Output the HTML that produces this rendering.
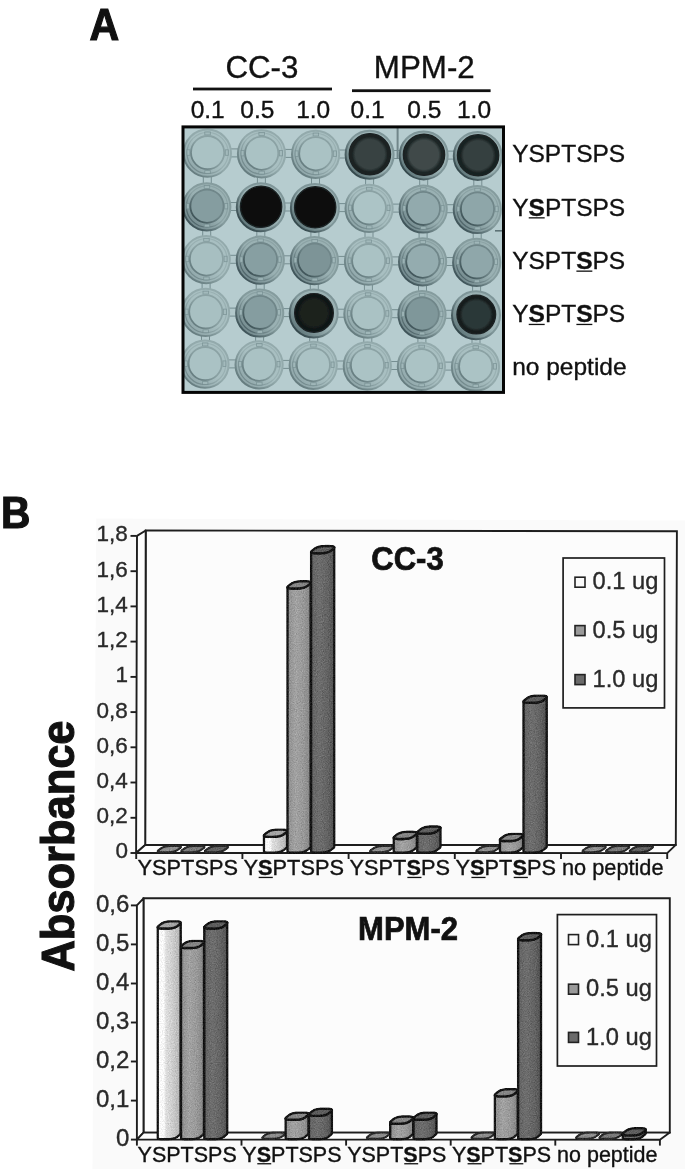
<!DOCTYPE html>
<html lang="en"><head><meta charset="utf-8"><title>Figure: CC-3 and MPM-2 peptide binding</title>
<style>
html,body{margin:0;padding:0;background:#fff;}
body{width:685px;height:1169px;overflow:hidden;}
svg{display:block;}
text{font-family:"Liberation Sans", Arial, Helvetica, sans-serif;fill:#111;stroke:#111;stroke-width:0.35px;}
.b{font-weight:bold;}
.u{text-decoration:underline;font-weight:bold;}
</style></head><body>
<svg width="685" height="1169" viewBox="0 0 685 1169" role="img" aria-label="Figure panels A and B">
<defs>
<filter id="soft" x="-5%" y="-5%" width="110%" height="110%"><feGaussianBlur stdDeviation="0.6"/></filter>
<clipPath id="plateclip"><rect x="183" y="127" width="321" height="266"/></clipPath>
<linearGradient id="g1" x1="0" y1="0" x2="1" y2="0"><stop offset="0" stop-color="#f9f9f9"/><stop offset="0.27" stop-color="#f9f9f9"/><stop offset="0.36" stop-color="#dddddd"/><stop offset="0.6" stop-color="#d0d0d0"/><stop offset="0.8" stop-color="#c1c1c1"/><stop offset="1" stop-color="#b0b0b0"/></linearGradient>
<linearGradient id="g2" x1="0" y1="0" x2="1" y2="0"><stop offset="0" stop-color="#8e8e8e"/><stop offset="0.35" stop-color="#a2a2a2"/><stop offset="0.7" stop-color="#989898"/><stop offset="1" stop-color="#848484"/></linearGradient>
<linearGradient id="g3" x1="0" y1="0" x2="1" y2="0"><stop offset="0" stop-color="#636363"/><stop offset="0.35" stop-color="#6e6e6e"/><stop offset="0.7" stop-color="#646464"/><stop offset="1" stop-color="#525252"/></linearGradient>
<radialGradient id="dk03" cx="50%" cy="50%" r="50%"><stop offset="0" stop-color="#384343"/><stop offset="0.7" stop-color="#384343"/><stop offset="0.86" stop-color="#1b2323"/><stop offset="1" stop-color="#1b2323"/></radialGradient>
<radialGradient id="dk04" cx="50%" cy="50%" r="50%"><stop offset="0" stop-color="#3f4a4a"/><stop offset="0.7" stop-color="#3f4a4a"/><stop offset="0.86" stop-color="#1e2626"/><stop offset="1" stop-color="#1e2626"/></radialGradient>
<radialGradient id="dk05" cx="50%" cy="50%" r="50%"><stop offset="0" stop-color="#354040"/><stop offset="0.7" stop-color="#354040"/><stop offset="0.86" stop-color="#192121"/><stop offset="1" stop-color="#192121"/></radialGradient>
<radialGradient id="dk11" cx="50%" cy="50%" r="50%"><stop offset="0" stop-color="#0d1111"/><stop offset="0.7" stop-color="#0d1111"/><stop offset="0.86" stop-color="#090c0c"/><stop offset="1" stop-color="#090c0c"/></radialGradient>
<radialGradient id="dk12" cx="50%" cy="50%" r="50%"><stop offset="0" stop-color="#0c1010"/><stop offset="0.7" stop-color="#0c1010"/><stop offset="0.86" stop-color="#080b0b"/><stop offset="1" stop-color="#080b0b"/></radialGradient>
<radialGradient id="dk32" cx="50%" cy="50%" r="50%"><stop offset="0" stop-color="#1a201f"/><stop offset="0.7" stop-color="#1a201f"/><stop offset="0.86" stop-color="#0e1312"/><stop offset="1" stop-color="#0e1312"/></radialGradient>
<radialGradient id="dk35" cx="50%" cy="50%" r="50%"><stop offset="0" stop-color="#2c3838"/><stop offset="0.7" stop-color="#2c3838"/><stop offset="0.86" stop-color="#161d1d"/><stop offset="1" stop-color="#161d1d"/></radialGradient>
<filter id="grain" x="-2%" y="-2%" width="104%" height="104%" color-interpolation-filters="sRGB"><feTurbulence type="fractalNoise" baseFrequency="0.85" numOctaves="2" seed="7" result="n"/><feColorMatrix in="n" type="matrix" values="0.33 0.33 0.33 0 0 0.33 0.33 0.33 0 0 0.33 0.33 0.33 0 0 0 0 0 0 1" result="g"/><feComposite in="SourceGraphic" in2="g" operator="arithmetic" k1="0" k2="1" k3="0.42" k4="-0.21" result="c"/><feComposite in="c" in2="SourceGraphic" operator="in"/></filter>
<linearGradient id="rbL" x1="0.15" y1="0.85" x2="0.85" y2="0.15"><stop offset="0" stop-color="#8fa6a9"/><stop offset="0.5" stop-color="#a8bfc1"/><stop offset="1" stop-color="#a8bfc1"/></linearGradient>
<linearGradient id="rsL" x1="0.15" y1="0.85" x2="0.85" y2="0.15"><stop offset="0" stop-color="#667d80"/><stop offset="0.5" stop-color="#93aaac"/><stop offset="1" stop-color="#93aaac"/></linearGradient>
<linearGradient id="riL" x1="0.15" y1="0.85" x2="0.85" y2="0.15"><stop offset="0" stop-color="#687f82"/><stop offset="0.5" stop-color="#8ba2a4"/><stop offset="1" stop-color="#8ba2a4"/></linearGradient>
<linearGradient id="rbM" x1="0.15" y1="0.85" x2="0.85" y2="0.15"><stop offset="0" stop-color="#71888c"/><stop offset="0.5" stop-color="#9ab1b3"/><stop offset="1" stop-color="#9ab1b3"/></linearGradient>
<linearGradient id="rsM" x1="0.15" y1="0.85" x2="0.85" y2="0.15"><stop offset="0" stop-color="#40555a"/><stop offset="0.5" stop-color="#859c9e"/><stop offset="1" stop-color="#859c9e"/></linearGradient>
<linearGradient id="riM" x1="0.15" y1="0.85" x2="0.85" y2="0.15"><stop offset="0" stop-color="#42575b"/><stop offset="0.5" stop-color="#6f8689"/><stop offset="1" stop-color="#6f8689"/></linearGradient>
<linearGradient id="rbD" x1="0.15" y1="0.85" x2="0.85" y2="0.15"><stop offset="0" stop-color="#62797c"/><stop offset="0.5" stop-color="#9ab1b3"/><stop offset="1" stop-color="#9ab1b3"/></linearGradient>
<linearGradient id="rsD" x1="0.15" y1="0.85" x2="0.85" y2="0.15"><stop offset="0" stop-color="#364a4e"/><stop offset="0.5" stop-color="#7f9699"/><stop offset="1" stop-color="#7f9699"/></linearGradient>
</defs>
<text transform="translate(89.6,40.3) scale(0.99,1.06)" font-size="41.5" class="b" style="stroke-width:1.1px">A</text>
<text x="261.9" y="77.7" font-size="31.3" text-anchor="middle">CC-3</text>
<text x="424.3" y="77.7" font-size="31.3" text-anchor="middle">MPM-2</text>
<rect x="193" y="87.6" width="139" height="2.8" fill="#111"/>
<rect x="352" y="89.3" width="138.6" height="2.8" fill="#111"/>
<text x="207.7" y="118.3" font-size="24.5" text-anchor="middle">0.1</text>
<text x="257.3" y="118.3" font-size="24.5" text-anchor="middle">0.5</text>
<text x="313.2" y="118.3" font-size="24.5" text-anchor="middle">1.0</text>
<text x="367.6" y="118.3" font-size="24.5" text-anchor="middle">0.1</text>
<text x="424.4" y="118.3" font-size="24.5" text-anchor="middle">0.5</text>
<text x="474.0" y="118.3" font-size="24.5" text-anchor="middle">1.0</text>
<rect x="182.5" y="126.4" width="321.5" height="266.5" fill="#b6cccf"/>
<g clip-path="url(#plateclip)"><g filter="url(#soft)">
<rect x="229.6" y="148.9" width="10.1" height="8" fill="#b2c8cb" stroke="#768e91" stroke-width="1"/>
<rect x="203.3" y="174.6" width="8" height="9.6" fill="#b2c8cb" stroke="#768e91" stroke-width="1"/>
<rect x="283.7" y="149.4" width="10.1" height="8" fill="#b2c8cb" stroke="#768e91" stroke-width="1"/>
<rect x="257.4" y="175.2" width="8" height="9.6" fill="#b2c8cb" stroke="#768e91" stroke-width="1"/>
<rect x="337.8" y="150.0" width="10.1" height="8" fill="#b2c8cb" stroke="#768e91" stroke-width="1"/>
<rect x="311.5" y="175.7" width="8" height="9.6" fill="#b2c8cb" stroke="#768e91" stroke-width="1"/>
<rect x="391.9" y="150.5" width="10.1" height="8" fill="#b2c8cb" stroke="#768e91" stroke-width="1"/>
<rect x="365.6" y="176.2" width="8" height="9.6" fill="#b2c8cb" stroke="#768e91" stroke-width="1"/>
<rect x="446.0" y="151.1" width="10.1" height="8" fill="#b2c8cb" stroke="#768e91" stroke-width="1"/>
<rect x="419.7" y="176.8" width="8" height="9.6" fill="#b2c8cb" stroke="#768e91" stroke-width="1"/>
<rect x="473.8" y="177.3" width="8" height="9.6" fill="#b2c8cb" stroke="#768e91" stroke-width="1"/>
<rect x="229.0" y="202.5" width="10.1" height="8" fill="#b2c8cb" stroke="#768e91" stroke-width="1"/>
<rect x="202.7" y="228.2" width="8" height="8.8" fill="#b2c8cb" stroke="#768e91" stroke-width="1"/>
<rect x="283.1" y="203.0" width="10.1" height="8" fill="#b2c8cb" stroke="#768e91" stroke-width="1"/>
<rect x="256.8" y="228.8" width="8" height="8.8" fill="#b2c8cb" stroke="#768e91" stroke-width="1"/>
<rect x="337.2" y="203.6" width="10.1" height="8" fill="#b2c8cb" stroke="#768e91" stroke-width="1"/>
<rect x="310.9" y="229.3" width="8" height="8.8" fill="#b2c8cb" stroke="#768e91" stroke-width="1"/>
<rect x="391.3" y="204.1" width="10.1" height="8" fill="#b2c8cb" stroke="#768e91" stroke-width="1"/>
<rect x="365.0" y="229.8" width="8" height="8.8" fill="#b2c8cb" stroke="#768e91" stroke-width="1"/>
<rect x="445.4" y="204.7" width="10.1" height="8" fill="#b2c8cb" stroke="#768e91" stroke-width="1"/>
<rect x="419.1" y="230.4" width="8" height="8.8" fill="#b2c8cb" stroke="#768e91" stroke-width="1"/>
<rect x="473.2" y="230.9" width="8" height="8.8" fill="#b2c8cb" stroke="#768e91" stroke-width="1"/>
<rect x="228.4" y="255.3" width="10.1" height="8" fill="#b2c8cb" stroke="#768e91" stroke-width="1"/>
<rect x="202.1" y="281.0" width="8" height="8.8" fill="#b2c8cb" stroke="#768e91" stroke-width="1"/>
<rect x="282.5" y="255.8" width="10.1" height="8" fill="#b2c8cb" stroke="#768e91" stroke-width="1"/>
<rect x="256.2" y="281.6" width="8" height="8.8" fill="#b2c8cb" stroke="#768e91" stroke-width="1"/>
<rect x="336.6" y="256.4" width="10.1" height="8" fill="#b2c8cb" stroke="#768e91" stroke-width="1"/>
<rect x="310.3" y="282.1" width="8" height="8.8" fill="#b2c8cb" stroke="#768e91" stroke-width="1"/>
<rect x="390.7" y="256.9" width="10.1" height="8" fill="#b2c8cb" stroke="#768e91" stroke-width="1"/>
<rect x="364.4" y="282.6" width="8" height="8.8" fill="#b2c8cb" stroke="#768e91" stroke-width="1"/>
<rect x="444.8" y="257.5" width="10.1" height="8" fill="#b2c8cb" stroke="#768e91" stroke-width="1"/>
<rect x="418.5" y="283.2" width="8" height="8.8" fill="#b2c8cb" stroke="#768e91" stroke-width="1"/>
<rect x="472.6" y="283.8" width="8" height="8.8" fill="#b2c8cb" stroke="#768e91" stroke-width="1"/>
<rect x="227.8" y="308.1" width="10.1" height="8" fill="#b2c8cb" stroke="#768e91" stroke-width="1"/>
<rect x="201.5" y="333.8" width="8" height="7.8" fill="#b2c8cb" stroke="#768e91" stroke-width="1"/>
<rect x="281.9" y="308.6" width="10.1" height="8" fill="#b2c8cb" stroke="#768e91" stroke-width="1"/>
<rect x="255.6" y="334.4" width="8" height="7.8" fill="#b2c8cb" stroke="#768e91" stroke-width="1"/>
<rect x="336.0" y="309.2" width="10.1" height="8" fill="#b2c8cb" stroke="#768e91" stroke-width="1"/>
<rect x="309.7" y="334.9" width="8" height="7.8" fill="#b2c8cb" stroke="#768e91" stroke-width="1"/>
<rect x="390.1" y="309.7" width="10.1" height="8" fill="#b2c8cb" stroke="#768e91" stroke-width="1"/>
<rect x="363.8" y="335.4" width="8" height="7.8" fill="#b2c8cb" stroke="#768e91" stroke-width="1"/>
<rect x="444.2" y="310.3" width="10.1" height="8" fill="#b2c8cb" stroke="#768e91" stroke-width="1"/>
<rect x="417.9" y="336.0" width="8" height="7.8" fill="#b2c8cb" stroke="#768e91" stroke-width="1"/>
<rect x="472.0" y="336.6" width="8" height="7.8" fill="#b2c8cb" stroke="#768e91" stroke-width="1"/>
<rect x="227.2" y="359.9" width="10.1" height="8" fill="#b2c8cb" stroke="#768e91" stroke-width="1"/>
<rect x="281.3" y="360.4" width="10.1" height="8" fill="#b2c8cb" stroke="#768e91" stroke-width="1"/>
<rect x="335.4" y="361.0" width="10.1" height="8" fill="#b2c8cb" stroke="#768e91" stroke-width="1"/>
<rect x="389.5" y="361.5" width="10.1" height="8" fill="#b2c8cb" stroke="#768e91" stroke-width="1"/>
<rect x="443.6" y="362.1" width="10.1" height="8" fill="#b2c8cb" stroke="#768e91" stroke-width="1"/>
<circle cx="207.4" cy="153.2" r="23.6" fill="url(#rbL)" stroke="url(#rsL)" stroke-width="2"/>
<circle cx="207.6" cy="152.9" r="20.6" fill="none" stroke="url(#rsL)" stroke-width="1.2" opacity="0.7"/>
<rect x="186.9" y="149.8" width="3.0" height="5.5" fill="#a2b9bb" stroke="#768e91" stroke-width="0.8" opacity="0.8"/>
<rect x="225.3" y="149.8" width="3.0" height="5.5" fill="#a2b9bb" stroke="#768e91" stroke-width="0.8" opacity="0.8"/>
<rect x="204.8" y="170.6" width="5.5" height="3.0" fill="#a2b9bb" stroke="#768e91" stroke-width="0.8" opacity="0.8"/>
<rect x="204.8" y="131.9" width="5.5" height="3.0" fill="#a2b9bb" stroke="#768e91" stroke-width="0.8" opacity="0.8"/>
<circle cx="207.6" cy="152.6" r="16.6" fill="#aac2c4" stroke="url(#riL)" stroke-width="1.8"/>
<circle cx="261.5" cy="153.8" r="23.6" fill="url(#rbL)" stroke="url(#rsL)" stroke-width="2"/>
<circle cx="261.7" cy="153.5" r="20.6" fill="none" stroke="url(#rsL)" stroke-width="1.2" opacity="0.7"/>
<rect x="241.0" y="150.4" width="3.0" height="5.5" fill="#a2b9bb" stroke="#768e91" stroke-width="0.8" opacity="0.8"/>
<rect x="279.4" y="150.4" width="3.0" height="5.5" fill="#a2b9bb" stroke="#768e91" stroke-width="0.8" opacity="0.8"/>
<rect x="258.9" y="171.2" width="5.5" height="3.0" fill="#a2b9bb" stroke="#768e91" stroke-width="0.8" opacity="0.8"/>
<rect x="258.9" y="132.5" width="5.5" height="3.0" fill="#a2b9bb" stroke="#768e91" stroke-width="0.8" opacity="0.8"/>
<circle cx="261.7" cy="153.2" r="16.6" fill="#aac2c4" stroke="url(#riL)" stroke-width="1.8"/>
<circle cx="315.6" cy="154.3" r="23.6" fill="url(#rbL)" stroke="url(#rsL)" stroke-width="2"/>
<circle cx="315.8" cy="154.0" r="20.6" fill="none" stroke="url(#rsL)" stroke-width="1.2" opacity="0.7"/>
<rect x="295.1" y="150.9" width="3.0" height="5.5" fill="#a2b9bb" stroke="#768e91" stroke-width="0.8" opacity="0.8"/>
<rect x="333.5" y="150.9" width="3.0" height="5.5" fill="#a2b9bb" stroke="#768e91" stroke-width="0.8" opacity="0.8"/>
<rect x="313.1" y="171.7" width="5.5" height="3.0" fill="#a2b9bb" stroke="#768e91" stroke-width="0.8" opacity="0.8"/>
<rect x="313.1" y="133.0" width="5.5" height="3.0" fill="#a2b9bb" stroke="#768e91" stroke-width="0.8" opacity="0.8"/>
<circle cx="315.8" cy="153.7" r="16.6" fill="#aac2c4" stroke="url(#riL)" stroke-width="1.8"/>
<circle cx="369.6" cy="154.8" r="24.0" fill="url(#rbD)" stroke="url(#rsD)" stroke-width="2"/>
<circle cx="369.9" cy="154.2" r="20.6" fill="url(#dk03)" stroke="#1a2123" stroke-width="1.4"/>
<circle cx="423.7" cy="155.4" r="24.0" fill="url(#rbD)" stroke="url(#rsD)" stroke-width="2"/>
<circle cx="424.0" cy="154.8" r="20.6" fill="url(#dk04)" stroke="#1a2123" stroke-width="1.4"/>
<circle cx="477.8" cy="155.9" r="24.0" fill="url(#rbD)" stroke="url(#rsD)" stroke-width="2"/>
<circle cx="478.1" cy="155.3" r="20.6" fill="url(#dk05)" stroke="#1a2123" stroke-width="1.4"/>
<circle cx="206.8" cy="206.8" r="23.6" fill="url(#rbM)" stroke="url(#rsM)" stroke-width="2"/>
<circle cx="207.0" cy="206.5" r="20.6" fill="none" stroke="url(#rsM)" stroke-width="1.2" opacity="0.7"/>
<rect x="186.3" y="203.4" width="3.0" height="5.5" fill="#a2b9bb" stroke="#768e91" stroke-width="0.8" opacity="0.8"/>
<rect x="224.7" y="203.4" width="3.0" height="5.5" fill="#a2b9bb" stroke="#768e91" stroke-width="0.8" opacity="0.8"/>
<rect x="204.2" y="224.2" width="5.5" height="3.0" fill="#a2b9bb" stroke="#768e91" stroke-width="0.8" opacity="0.8"/>
<rect x="204.2" y="185.5" width="5.5" height="3.0" fill="#a2b9bb" stroke="#768e91" stroke-width="0.8" opacity="0.8"/>
<circle cx="207.0" cy="206.2" r="16.6" fill="#859da0" stroke="url(#riM)" stroke-width="1.8"/>
<circle cx="260.8" cy="207.3" r="24.0" fill="url(#rbD)" stroke="url(#rsD)" stroke-width="2"/>
<circle cx="261.1" cy="206.8" r="20.6" fill="url(#dk11)" stroke="#1a2123" stroke-width="1.4"/>
<circle cx="314.9" cy="207.9" r="24.0" fill="url(#rbD)" stroke="url(#rsD)" stroke-width="2"/>
<circle cx="315.2" cy="207.3" r="20.6" fill="url(#dk12)" stroke="#1a2123" stroke-width="1.4"/>
<circle cx="369.1" cy="208.4" r="23.6" fill="url(#rbL)" stroke="url(#rsL)" stroke-width="2"/>
<circle cx="369.3" cy="208.2" r="20.6" fill="none" stroke="url(#rsL)" stroke-width="1.2" opacity="0.7"/>
<rect x="348.6" y="205.1" width="3.0" height="5.5" fill="#a2b9bb" stroke="#768e91" stroke-width="0.8" opacity="0.8"/>
<rect x="387.0" y="205.1" width="3.0" height="5.5" fill="#a2b9bb" stroke="#768e91" stroke-width="0.8" opacity="0.8"/>
<rect x="366.5" y="225.8" width="5.5" height="3.0" fill="#a2b9bb" stroke="#768e91" stroke-width="0.8" opacity="0.8"/>
<rect x="366.5" y="187.2" width="5.5" height="3.0" fill="#a2b9bb" stroke="#768e91" stroke-width="0.8" opacity="0.8"/>
<circle cx="369.3" cy="207.8" r="16.6" fill="#acc4c6" stroke="url(#riL)" stroke-width="1.8"/>
<circle cx="423.2" cy="209.0" r="23.6" fill="url(#rbM)" stroke="url(#rsM)" stroke-width="2"/>
<circle cx="423.4" cy="208.7" r="20.6" fill="none" stroke="url(#rsM)" stroke-width="1.2" opacity="0.7"/>
<rect x="402.7" y="205.6" width="3.0" height="5.5" fill="#a2b9bb" stroke="#768e91" stroke-width="0.8" opacity="0.8"/>
<rect x="441.1" y="205.6" width="3.0" height="5.5" fill="#a2b9bb" stroke="#768e91" stroke-width="0.8" opacity="0.8"/>
<rect x="420.6" y="226.4" width="5.5" height="3.0" fill="#a2b9bb" stroke="#768e91" stroke-width="0.8" opacity="0.8"/>
<rect x="420.6" y="187.7" width="5.5" height="3.0" fill="#a2b9bb" stroke="#768e91" stroke-width="0.8" opacity="0.8"/>
<circle cx="423.4" cy="208.4" r="16.6" fill="#92aaad" stroke="url(#riM)" stroke-width="1.8"/>
<circle cx="477.3" cy="209.5" r="23.6" fill="url(#rbM)" stroke="url(#rsM)" stroke-width="2"/>
<circle cx="477.5" cy="209.2" r="20.6" fill="none" stroke="url(#rsM)" stroke-width="1.2" opacity="0.7"/>
<rect x="456.8" y="206.2" width="3.0" height="5.5" fill="#a2b9bb" stroke="#768e91" stroke-width="0.8" opacity="0.8"/>
<rect x="495.2" y="206.2" width="3.0" height="5.5" fill="#a2b9bb" stroke="#768e91" stroke-width="0.8" opacity="0.8"/>
<rect x="474.8" y="226.9" width="5.5" height="3.0" fill="#a2b9bb" stroke="#768e91" stroke-width="0.8" opacity="0.8"/>
<rect x="474.8" y="188.2" width="5.5" height="3.0" fill="#a2b9bb" stroke="#768e91" stroke-width="0.8" opacity="0.8"/>
<circle cx="477.5" cy="208.9" r="16.6" fill="#8ea6a9" stroke="url(#riM)" stroke-width="1.8"/>
<circle cx="206.2" cy="259.6" r="23.6" fill="url(#rbL)" stroke="url(#rsL)" stroke-width="2"/>
<circle cx="206.4" cy="259.3" r="20.6" fill="none" stroke="url(#rsL)" stroke-width="1.2" opacity="0.7"/>
<rect x="185.7" y="256.2" width="3.0" height="5.5" fill="#a2b9bb" stroke="#768e91" stroke-width="0.8" opacity="0.8"/>
<rect x="224.1" y="256.2" width="3.0" height="5.5" fill="#a2b9bb" stroke="#768e91" stroke-width="0.8" opacity="0.8"/>
<rect x="203.7" y="277.0" width="5.5" height="3.0" fill="#a2b9bb" stroke="#768e91" stroke-width="0.8" opacity="0.8"/>
<rect x="203.7" y="238.3" width="5.5" height="3.0" fill="#a2b9bb" stroke="#768e91" stroke-width="0.8" opacity="0.8"/>
<circle cx="206.4" cy="259.0" r="16.6" fill="#a7bfc1" stroke="url(#riL)" stroke-width="1.8"/>
<circle cx="260.3" cy="260.2" r="23.6" fill="url(#rbM)" stroke="url(#rsM)" stroke-width="2"/>
<circle cx="260.5" cy="259.9" r="20.6" fill="none" stroke="url(#rsM)" stroke-width="1.2" opacity="0.7"/>
<rect x="239.8" y="256.8" width="3.0" height="5.5" fill="#a2b9bb" stroke="#768e91" stroke-width="0.8" opacity="0.8"/>
<rect x="278.2" y="256.8" width="3.0" height="5.5" fill="#a2b9bb" stroke="#768e91" stroke-width="0.8" opacity="0.8"/>
<rect x="257.8" y="277.6" width="5.5" height="3.0" fill="#a2b9bb" stroke="#768e91" stroke-width="0.8" opacity="0.8"/>
<rect x="257.8" y="238.9" width="5.5" height="3.0" fill="#a2b9bb" stroke="#768e91" stroke-width="0.8" opacity="0.8"/>
<circle cx="260.5" cy="259.6" r="16.6" fill="#879fa2" stroke="url(#riM)" stroke-width="1.8"/>
<circle cx="314.4" cy="260.7" r="23.6" fill="url(#rbM)" stroke="url(#rsM)" stroke-width="2"/>
<circle cx="314.6" cy="260.4" r="20.6" fill="none" stroke="url(#rsM)" stroke-width="1.2" opacity="0.7"/>
<rect x="293.9" y="257.4" width="3.0" height="5.5" fill="#a2b9bb" stroke="#768e91" stroke-width="0.8" opacity="0.8"/>
<rect x="332.3" y="257.4" width="3.0" height="5.5" fill="#a2b9bb" stroke="#768e91" stroke-width="0.8" opacity="0.8"/>
<rect x="311.9" y="278.1" width="5.5" height="3.0" fill="#a2b9bb" stroke="#768e91" stroke-width="0.8" opacity="0.8"/>
<rect x="311.9" y="239.4" width="5.5" height="3.0" fill="#a2b9bb" stroke="#768e91" stroke-width="0.8" opacity="0.8"/>
<circle cx="314.6" cy="260.1" r="16.6" fill="#7d9497" stroke="url(#riM)" stroke-width="1.8"/>
<circle cx="368.5" cy="261.2" r="23.6" fill="url(#rbL)" stroke="url(#rsL)" stroke-width="2"/>
<circle cx="368.7" cy="260.9" r="20.6" fill="none" stroke="url(#rsL)" stroke-width="1.2" opacity="0.7"/>
<rect x="348.0" y="257.9" width="3.0" height="5.5" fill="#a2b9bb" stroke="#768e91" stroke-width="0.8" opacity="0.8"/>
<rect x="386.4" y="257.9" width="3.0" height="5.5" fill="#a2b9bb" stroke="#768e91" stroke-width="0.8" opacity="0.8"/>
<rect x="365.9" y="278.6" width="5.5" height="3.0" fill="#a2b9bb" stroke="#768e91" stroke-width="0.8" opacity="0.8"/>
<rect x="365.9" y="239.9" width="5.5" height="3.0" fill="#a2b9bb" stroke="#768e91" stroke-width="0.8" opacity="0.8"/>
<circle cx="368.7" cy="260.6" r="16.6" fill="#aac2c4" stroke="url(#riL)" stroke-width="1.8"/>
<circle cx="422.6" cy="261.8" r="23.6" fill="url(#rbM)" stroke="url(#rsM)" stroke-width="2"/>
<circle cx="422.8" cy="261.5" r="20.6" fill="none" stroke="url(#rsM)" stroke-width="1.2" opacity="0.7"/>
<rect x="402.1" y="258.4" width="3.0" height="5.5" fill="#a2b9bb" stroke="#768e91" stroke-width="0.8" opacity="0.8"/>
<rect x="440.5" y="258.4" width="3.0" height="5.5" fill="#a2b9bb" stroke="#768e91" stroke-width="0.8" opacity="0.8"/>
<rect x="420.1" y="279.2" width="5.5" height="3.0" fill="#a2b9bb" stroke="#768e91" stroke-width="0.8" opacity="0.8"/>
<rect x="420.1" y="240.5" width="5.5" height="3.0" fill="#a2b9bb" stroke="#768e91" stroke-width="0.8" opacity="0.8"/>
<circle cx="422.8" cy="261.2" r="16.6" fill="#94acaf" stroke="url(#riM)" stroke-width="1.8"/>
<circle cx="476.7" cy="262.4" r="23.6" fill="url(#rbM)" stroke="url(#rsM)" stroke-width="2"/>
<circle cx="476.9" cy="262.1" r="20.6" fill="none" stroke="url(#rsM)" stroke-width="1.2" opacity="0.7"/>
<rect x="456.2" y="259.0" width="3.0" height="5.5" fill="#a2b9bb" stroke="#768e91" stroke-width="0.8" opacity="0.8"/>
<rect x="494.6" y="259.0" width="3.0" height="5.5" fill="#a2b9bb" stroke="#768e91" stroke-width="0.8" opacity="0.8"/>
<rect x="474.2" y="279.8" width="5.5" height="3.0" fill="#a2b9bb" stroke="#768e91" stroke-width="0.8" opacity="0.8"/>
<rect x="474.2" y="241.1" width="5.5" height="3.0" fill="#a2b9bb" stroke="#768e91" stroke-width="0.8" opacity="0.8"/>
<circle cx="476.9" cy="261.8" r="16.6" fill="#8fa7aa" stroke="url(#riM)" stroke-width="1.8"/>
<circle cx="205.6" cy="312.4" r="23.6" fill="url(#rbL)" stroke="url(#rsL)" stroke-width="2"/>
<circle cx="205.8" cy="312.1" r="20.6" fill="none" stroke="url(#rsL)" stroke-width="1.2" opacity="0.7"/>
<rect x="185.1" y="309.1" width="3.0" height="5.5" fill="#a2b9bb" stroke="#768e91" stroke-width="0.8" opacity="0.8"/>
<rect x="223.5" y="309.1" width="3.0" height="5.5" fill="#a2b9bb" stroke="#768e91" stroke-width="0.8" opacity="0.8"/>
<rect x="203.0" y="329.8" width="5.5" height="3.0" fill="#a2b9bb" stroke="#768e91" stroke-width="0.8" opacity="0.8"/>
<rect x="203.0" y="291.1" width="5.5" height="3.0" fill="#a2b9bb" stroke="#768e91" stroke-width="0.8" opacity="0.8"/>
<circle cx="205.8" cy="311.8" r="16.6" fill="#a8c0c2" stroke="url(#riL)" stroke-width="1.8"/>
<circle cx="259.7" cy="313.0" r="23.6" fill="url(#rbM)" stroke="url(#rsM)" stroke-width="2"/>
<circle cx="259.9" cy="312.7" r="20.6" fill="none" stroke="url(#rsM)" stroke-width="1.2" opacity="0.7"/>
<rect x="239.2" y="309.6" width="3.0" height="5.5" fill="#a2b9bb" stroke="#768e91" stroke-width="0.8" opacity="0.8"/>
<rect x="277.6" y="309.6" width="3.0" height="5.5" fill="#a2b9bb" stroke="#768e91" stroke-width="0.8" opacity="0.8"/>
<rect x="257.1" y="330.4" width="5.5" height="3.0" fill="#a2b9bb" stroke="#768e91" stroke-width="0.8" opacity="0.8"/>
<rect x="257.1" y="291.7" width="5.5" height="3.0" fill="#a2b9bb" stroke="#768e91" stroke-width="0.8" opacity="0.8"/>
<circle cx="259.9" cy="312.4" r="16.6" fill="#859da0" stroke="url(#riM)" stroke-width="1.8"/>
<circle cx="313.7" cy="313.5" r="24.0" fill="url(#rbD)" stroke="url(#rsD)" stroke-width="2"/>
<circle cx="314.0" cy="312.9" r="19.3" fill="url(#dk32)" stroke="#1a2123" stroke-width="1.4"/>
<circle cx="367.9" cy="314.1" r="23.6" fill="url(#rbL)" stroke="url(#rsL)" stroke-width="2"/>
<circle cx="368.1" cy="313.8" r="20.6" fill="none" stroke="url(#rsL)" stroke-width="1.2" opacity="0.7"/>
<rect x="347.4" y="310.7" width="3.0" height="5.5" fill="#a2b9bb" stroke="#768e91" stroke-width="0.8" opacity="0.8"/>
<rect x="385.8" y="310.7" width="3.0" height="5.5" fill="#a2b9bb" stroke="#768e91" stroke-width="0.8" opacity="0.8"/>
<rect x="365.3" y="331.4" width="5.5" height="3.0" fill="#a2b9bb" stroke="#768e91" stroke-width="0.8" opacity="0.8"/>
<rect x="365.3" y="292.8" width="5.5" height="3.0" fill="#a2b9bb" stroke="#768e91" stroke-width="0.8" opacity="0.8"/>
<circle cx="368.1" cy="313.4" r="16.6" fill="#aac2c4" stroke="url(#riL)" stroke-width="1.8"/>
<circle cx="422.0" cy="314.6" r="23.6" fill="url(#rbM)" stroke="url(#rsM)" stroke-width="2"/>
<circle cx="422.2" cy="314.3" r="20.6" fill="none" stroke="url(#rsM)" stroke-width="1.2" opacity="0.7"/>
<rect x="401.5" y="311.2" width="3.0" height="5.5" fill="#a2b9bb" stroke="#768e91" stroke-width="0.8" opacity="0.8"/>
<rect x="439.9" y="311.2" width="3.0" height="5.5" fill="#a2b9bb" stroke="#768e91" stroke-width="0.8" opacity="0.8"/>
<rect x="419.4" y="332.0" width="5.5" height="3.0" fill="#a2b9bb" stroke="#768e91" stroke-width="0.8" opacity="0.8"/>
<rect x="419.4" y="293.3" width="5.5" height="3.0" fill="#a2b9bb" stroke="#768e91" stroke-width="0.8" opacity="0.8"/>
<circle cx="422.2" cy="314.0" r="16.6" fill="#7f979a" stroke="url(#riM)" stroke-width="1.8"/>
<circle cx="476.0" cy="315.2" r="24.0" fill="url(#rbD)" stroke="url(#rsD)" stroke-width="2"/>
<circle cx="476.3" cy="314.6" r="19.3" fill="url(#dk35)" stroke="#1a2123" stroke-width="1.4"/>
<circle cx="205.0" cy="364.2" r="23.6" fill="url(#rbL)" stroke="url(#rsL)" stroke-width="2"/>
<circle cx="205.2" cy="363.9" r="20.6" fill="none" stroke="url(#rsL)" stroke-width="1.2" opacity="0.7"/>
<rect x="184.5" y="360.9" width="3.0" height="5.5" fill="#a2b9bb" stroke="#768e91" stroke-width="0.8" opacity="0.8"/>
<rect x="222.9" y="360.9" width="3.0" height="5.5" fill="#a2b9bb" stroke="#768e91" stroke-width="0.8" opacity="0.8"/>
<rect x="202.4" y="381.6" width="5.5" height="3.0" fill="#a2b9bb" stroke="#768e91" stroke-width="0.8" opacity="0.8"/>
<rect x="202.4" y="342.9" width="5.5" height="3.0" fill="#a2b9bb" stroke="#768e91" stroke-width="0.8" opacity="0.8"/>
<circle cx="205.2" cy="363.6" r="16.6" fill="#aac2c4" stroke="url(#riL)" stroke-width="1.8"/>
<circle cx="259.1" cy="364.8" r="23.6" fill="url(#rbL)" stroke="url(#rsL)" stroke-width="2"/>
<circle cx="259.3" cy="364.5" r="20.6" fill="none" stroke="url(#rsL)" stroke-width="1.2" opacity="0.7"/>
<rect x="238.6" y="361.4" width="3.0" height="5.5" fill="#a2b9bb" stroke="#768e91" stroke-width="0.8" opacity="0.8"/>
<rect x="277.0" y="361.4" width="3.0" height="5.5" fill="#a2b9bb" stroke="#768e91" stroke-width="0.8" opacity="0.8"/>
<rect x="256.6" y="382.2" width="5.5" height="3.0" fill="#a2b9bb" stroke="#768e91" stroke-width="0.8" opacity="0.8"/>
<rect x="256.6" y="343.5" width="5.5" height="3.0" fill="#a2b9bb" stroke="#768e91" stroke-width="0.8" opacity="0.8"/>
<circle cx="259.3" cy="364.2" r="16.6" fill="#aac2c4" stroke="url(#riL)" stroke-width="1.8"/>
<circle cx="313.2" cy="365.3" r="23.6" fill="url(#rbL)" stroke="url(#rsL)" stroke-width="2"/>
<circle cx="313.4" cy="365.0" r="20.6" fill="none" stroke="url(#rsL)" stroke-width="1.2" opacity="0.7"/>
<rect x="292.7" y="362.0" width="3.0" height="5.5" fill="#a2b9bb" stroke="#768e91" stroke-width="0.8" opacity="0.8"/>
<rect x="331.1" y="362.0" width="3.0" height="5.5" fill="#a2b9bb" stroke="#768e91" stroke-width="0.8" opacity="0.8"/>
<rect x="310.7" y="382.7" width="5.5" height="3.0" fill="#a2b9bb" stroke="#768e91" stroke-width="0.8" opacity="0.8"/>
<rect x="310.7" y="344.0" width="5.5" height="3.0" fill="#a2b9bb" stroke="#768e91" stroke-width="0.8" opacity="0.8"/>
<circle cx="313.4" cy="364.7" r="16.6" fill="#abc3c5" stroke="url(#riL)" stroke-width="1.8"/>
<circle cx="367.3" cy="365.9" r="23.6" fill="url(#rbL)" stroke="url(#rsL)" stroke-width="2"/>
<circle cx="367.5" cy="365.6" r="20.6" fill="none" stroke="url(#rsL)" stroke-width="1.2" opacity="0.7"/>
<rect x="346.8" y="362.5" width="3.0" height="5.5" fill="#a2b9bb" stroke="#768e91" stroke-width="0.8" opacity="0.8"/>
<rect x="385.2" y="362.5" width="3.0" height="5.5" fill="#a2b9bb" stroke="#768e91" stroke-width="0.8" opacity="0.8"/>
<rect x="364.8" y="383.2" width="5.5" height="3.0" fill="#a2b9bb" stroke="#768e91" stroke-width="0.8" opacity="0.8"/>
<rect x="364.8" y="344.6" width="5.5" height="3.0" fill="#a2b9bb" stroke="#768e91" stroke-width="0.8" opacity="0.8"/>
<circle cx="367.5" cy="365.2" r="16.6" fill="#abc3c5" stroke="url(#riL)" stroke-width="1.8"/>
<circle cx="421.4" cy="366.4" r="23.6" fill="url(#rbL)" stroke="url(#rsL)" stroke-width="2"/>
<circle cx="421.6" cy="366.1" r="20.6" fill="none" stroke="url(#rsL)" stroke-width="1.2" opacity="0.7"/>
<rect x="400.9" y="363.1" width="3.0" height="5.5" fill="#a2b9bb" stroke="#768e91" stroke-width="0.8" opacity="0.8"/>
<rect x="439.3" y="363.1" width="3.0" height="5.5" fill="#a2b9bb" stroke="#768e91" stroke-width="0.8" opacity="0.8"/>
<rect x="418.9" y="383.8" width="5.5" height="3.0" fill="#a2b9bb" stroke="#768e91" stroke-width="0.8" opacity="0.8"/>
<rect x="418.9" y="345.1" width="5.5" height="3.0" fill="#a2b9bb" stroke="#768e91" stroke-width="0.8" opacity="0.8"/>
<circle cx="421.6" cy="365.8" r="16.6" fill="#abc3c5" stroke="url(#riL)" stroke-width="1.8"/>
<circle cx="475.5" cy="367.0" r="23.6" fill="url(#rbL)" stroke="url(#rsL)" stroke-width="2"/>
<circle cx="475.7" cy="366.7" r="20.6" fill="none" stroke="url(#rsL)" stroke-width="1.2" opacity="0.7"/>
<rect x="455.0" y="363.6" width="3.0" height="5.5" fill="#a2b9bb" stroke="#768e91" stroke-width="0.8" opacity="0.8"/>
<rect x="493.4" y="363.6" width="3.0" height="5.5" fill="#a2b9bb" stroke="#768e91" stroke-width="0.8" opacity="0.8"/>
<rect x="473.0" y="384.4" width="5.5" height="3.0" fill="#a2b9bb" stroke="#768e91" stroke-width="0.8" opacity="0.8"/>
<rect x="473.0" y="345.7" width="5.5" height="3.0" fill="#a2b9bb" stroke="#768e91" stroke-width="0.8" opacity="0.8"/>
<circle cx="475.7" cy="366.4" r="16.6" fill="#abc3c5" stroke="url(#riL)" stroke-width="1.8"/>
<rect x="396.6" y="127" width="2" height="32" fill="#71868a"/>
<rect x="495" y="230" width="8" height="1.6" fill="#5d7276"/>
</g></g>
<rect x="183.00" y="126.90" width="320.50" height="265.50" fill="none" stroke="#050505" stroke-width="3.0"/>
<text x="512.20" y="162.2" font-size="24.5">YSPTSPS</text>
<text x="512.20" y="215.5" font-size="24.5">Y<tspan class="b">S</tspan>PTSPS</text>
<rect x="528.74" y="217.20" width="15.94" height="1.30" fill="#111"/>
<text x="512.20" y="268.8" font-size="24.5">YSPT<tspan class="b">S</tspan>PS</text>
<rect x="576.39" y="270.50" width="15.94" height="1.30" fill="#111"/>
<text x="512.20" y="322.1" font-size="24.5">Y<tspan class="b">S</tspan>PT<tspan class="b">S</tspan>PS</text>
<rect x="528.74" y="323.80" width="15.94" height="1.30" fill="#111"/>
<rect x="576.39" y="323.80" width="15.94" height="1.30" fill="#111"/>
<text x="512.20" y="375.4" font-size="24.5">no peptide</text>
<text transform="translate(0.9,527.5) scale(0.98,1.07)" font-size="41.5" class="b" style="stroke-width:1.1px">B</text>
<polygon points="96.3,518.6 685,520.6 685,1169 92.5,1169" fill="#fafafa"/>
<text transform="translate(74.2,846) rotate(-90) scale(0.945,0.985)" font-size="46" class="b" text-anchor="middle" style="stroke-width:1.1px">Absorbance</text>
<g transform="rotate(0 406 690)">
<polygon points="145.7,530.5 676.9,531.2 675.8,844.9 145.2,845.0" fill="#fcfcfc" stroke="#1e1e1e" stroke-width="1.9" stroke-linejoin="miter"/>
<polygon points="137.0,535.9 145.7,530.5 145.2,845.0 136.1,853.0" fill="#fdfdfd" stroke="#1e1e1e" stroke-width="1.9" stroke-linejoin="round"/>
<polygon points="136.1,853.0 145.2,845.0 675.8,844.9 667.2,853.1" fill="#fdfdfd" stroke="#1e1e1e" stroke-width="1.9" stroke-linejoin="round"/>
<line x1="130.5" y1="853.0" x2="136.5" y2="853.0" stroke="#1e1e1e" stroke-width="1.9"/>
<text x="127.9" y="858.4" font-size="22.5" text-anchor="end" style="fill:#2a2a2a;stroke:#2a2a2a">0</text>
<line x1="130.5" y1="817.8" x2="136.5" y2="817.8" stroke="#1e1e1e" stroke-width="1.9"/>
<text x="127.9" y="823.2" font-size="22.5" text-anchor="end" style="fill:#2a2a2a;stroke:#2a2a2a">0,2</text>
<line x1="130.5" y1="782.5" x2="136.5" y2="782.5" stroke="#1e1e1e" stroke-width="1.9"/>
<text x="127.9" y="787.9" font-size="22.5" text-anchor="end" style="fill:#2a2a2a;stroke:#2a2a2a">0,4</text>
<line x1="130.5" y1="747.3" x2="136.5" y2="747.3" stroke="#1e1e1e" stroke-width="1.9"/>
<text x="127.9" y="752.7" font-size="22.5" text-anchor="end" style="fill:#2a2a2a;stroke:#2a2a2a">0,6</text>
<line x1="130.5" y1="712.1" x2="136.5" y2="712.1" stroke="#1e1e1e" stroke-width="1.9"/>
<text x="127.9" y="717.5" font-size="22.5" text-anchor="end" style="fill:#2a2a2a;stroke:#2a2a2a">0,8</text>
<line x1="130.5" y1="676.9" x2="136.5" y2="676.9" stroke="#1e1e1e" stroke-width="1.9"/>
<text x="127.9" y="682.2" font-size="22.5" text-anchor="end" style="fill:#2a2a2a;stroke:#2a2a2a">1</text>
<line x1="130.5" y1="641.6" x2="136.5" y2="641.6" stroke="#1e1e1e" stroke-width="1.9"/>
<text x="127.9" y="647.0" font-size="22.5" text-anchor="end" style="fill:#2a2a2a;stroke:#2a2a2a">1,2</text>
<line x1="130.5" y1="606.4" x2="136.5" y2="606.4" stroke="#1e1e1e" stroke-width="1.9"/>
<text x="127.9" y="611.8" font-size="22.5" text-anchor="end" style="fill:#2a2a2a;stroke:#2a2a2a">1,4</text>
<line x1="130.5" y1="571.2" x2="136.5" y2="571.2" stroke="#1e1e1e" stroke-width="1.9"/>
<text x="127.9" y="576.6" font-size="22.5" text-anchor="end" style="fill:#2a2a2a;stroke:#2a2a2a">1,6</text>
<line x1="130.5" y1="535.9" x2="136.5" y2="535.9" stroke="#1e1e1e" stroke-width="1.9"/>
<text x="127.9" y="541.3" font-size="22.5" text-anchor="end" style="fill:#2a2a2a;stroke:#2a2a2a">1,8</text>
<line x1="136.2" y1="853.0" x2="136.2" y2="859.0" stroke="#1e1e1e" stroke-width="1.9"/>
<line x1="242.4" y1="853.0" x2="242.4" y2="859.0" stroke="#1e1e1e" stroke-width="1.9"/>
<line x1="348.6" y1="853.0" x2="348.6" y2="859.0" stroke="#1e1e1e" stroke-width="1.9"/>
<line x1="454.8" y1="853.0" x2="454.8" y2="859.0" stroke="#1e1e1e" stroke-width="1.9"/>
<line x1="561.0" y1="853.0" x2="561.0" y2="859.0" stroke="#1e1e1e" stroke-width="1.9"/>
<line x1="667.2" y1="853.0" x2="667.2" y2="859.0" stroke="#1e1e1e" stroke-width="1.9"/>
<text transform="translate(407.5,569.6) scale(1,1.06)" font-size="31" class="b" text-anchor="middle" style="stroke-width:0.7px">CC-3</text>
<rect x="563.1" y="558.0" width="101.4" height="149.9" fill="#fcfcfc" stroke="#1e1e1e" stroke-width="1.7"/>
<rect x="575.0" y="577.2" width="10" height="10" fill="#fafafa" stroke="#222" stroke-width="1.6"/>
<text x="592.5" y="589.4" font-size="23.7" style="fill:#2a2a2a;stroke:#2a2a2a">0.1 ug</text>
<rect x="575.0" y="625.6" width="10" height="10" fill="#9a9a9a" stroke="#222" stroke-width="1.6"/>
<text x="592.5" y="637.8" font-size="23.7" style="fill:#2a2a2a;stroke:#2a2a2a">0.5 ug</text>
<rect x="575.0" y="674.6" width="10" height="10" fill="#6a6a6a" stroke="#222" stroke-width="1.6"/>
<text x="592.5" y="686.8" font-size="23.7" style="fill:#2a2a2a;stroke:#2a2a2a">1.0 ug</text>
<g filter="url(#grain)">
<path d="M178.71,849.10 L179.70,848.40 L180.17,848.02 L180.50,847.72 L180.72,847.45 L180.85,847.22 L180.90,847.02 L180.87,846.83 L180.77,846.67 L180.60,846.52 L180.35,846.39 L180.03,846.27 L179.63,846.17 L179.14,846.09 L178.56,846.02 L177.87,845.97 L177.03,845.93 L175.96,845.91 L173.90,845.90 L171.82,845.91 L170.68,845.93 L169.73,845.97 L168.89,846.02 L168.11,846.09 L167.39,846.17 L166.70,846.27 L166.05,846.39 L165.42,846.52 L164.82,846.67 L164.24,846.83 L163.69,847.02 L163.14,847.22 L162.61,847.45 L162.08,847.72 L161.53,848.02 L160.93,848.40 L159.89,849.10 L158.90,849.80 L158.43,850.18 L158.10,850.48 L157.88,850.75 L157.75,850.98 L157.70,851.18 L157.73,851.37 L157.83,851.53 L158.00,851.68 L158.25,851.81 L158.57,851.93 L158.97,852.03 L159.46,852.11 L160.04,852.18 L160.73,852.23 L161.57,852.27 L162.64,852.29 L164.70,852.30 L166.78,852.29 L167.92,852.27 L168.87,852.23 L169.71,852.18 L170.49,852.11 L171.21,852.03 L171.90,851.93 L172.55,851.81 L173.18,851.68 L173.78,851.53 L174.36,851.37 L174.91,851.18 L175.46,850.98 L175.99,850.75 L176.52,850.48 L177.07,850.18 L177.67,849.80 Z" fill="#8e8e8e" stroke="#2a2a2a" stroke-width="2.2" stroke-linejoin="round"/>
<path d="M202.31,849.10 L203.30,848.40 L203.77,848.02 L204.10,847.72 L204.32,847.45 L204.45,847.22 L204.50,847.02 L204.47,846.83 L204.37,846.67 L204.20,846.52 L203.95,846.39 L203.63,846.27 L203.23,846.17 L202.74,846.09 L202.16,846.02 L201.47,845.97 L200.63,845.93 L199.56,845.91 L197.50,845.90 L195.42,845.91 L194.28,845.93 L193.33,845.97 L192.49,846.02 L191.71,846.09 L190.99,846.17 L190.30,846.27 L189.65,846.39 L189.02,846.52 L188.42,846.67 L187.84,846.83 L187.29,847.02 L186.74,847.22 L186.21,847.45 L185.68,847.72 L185.13,848.02 L184.53,848.40 L183.49,849.10 L182.50,849.80 L182.03,850.18 L181.70,850.48 L181.48,850.75 L181.35,850.98 L181.30,851.18 L181.33,851.37 L181.43,851.53 L181.60,851.68 L181.85,851.81 L182.17,851.93 L182.57,852.03 L183.06,852.11 L183.64,852.18 L184.33,852.23 L185.17,852.27 L186.24,852.29 L188.30,852.30 L190.38,852.29 L191.52,852.27 L192.47,852.23 L193.31,852.18 L194.09,852.11 L194.81,852.03 L195.50,851.93 L196.15,851.81 L196.78,851.68 L197.38,851.53 L197.96,851.37 L198.51,851.18 L199.06,850.98 L199.59,850.75 L200.12,850.48 L200.67,850.18 L201.27,849.80 Z" fill="#7a7a7a" stroke="#2a2a2a" stroke-width="2.2" stroke-linejoin="round"/>
<path d="M225.91,849.10 L226.90,848.40 L227.37,848.02 L227.70,847.72 L227.92,847.45 L228.05,847.22 L228.10,847.02 L228.07,846.83 L227.97,846.67 L227.80,846.52 L227.55,846.39 L227.23,846.27 L226.83,846.17 L226.34,846.09 L225.76,846.02 L225.07,845.97 L224.23,845.93 L223.16,845.91 L221.10,845.90 L219.02,845.91 L217.88,845.93 L216.93,845.97 L216.09,846.02 L215.31,846.09 L214.59,846.17 L213.90,846.27 L213.25,846.39 L212.62,846.52 L212.02,846.67 L211.44,846.83 L210.89,847.02 L210.34,847.22 L209.81,847.45 L209.28,847.72 L208.73,848.02 L208.13,848.40 L207.09,849.10 L206.10,849.80 L205.63,850.18 L205.30,850.48 L205.08,850.75 L204.95,850.98 L204.90,851.18 L204.93,851.37 L205.03,851.53 L205.20,851.68 L205.45,851.81 L205.77,851.93 L206.17,852.03 L206.66,852.11 L207.24,852.18 L207.93,852.23 L208.77,852.27 L209.84,852.29 L211.90,852.30 L213.98,852.29 L215.12,852.27 L216.07,852.23 L216.91,852.18 L217.69,852.11 L218.41,852.03 L219.10,851.93 L219.75,851.81 L220.38,851.68 L220.98,851.53 L221.56,851.37 L222.11,851.18 L222.66,850.98 L223.19,850.75 L223.72,850.48 L224.27,850.18 L224.87,849.80 Z" fill="#626262" stroke="#2a2a2a" stroke-width="2.2" stroke-linejoin="round"/>
<path d="M287.10,830.90 L287.10,846.76 L287.05,846.99 L286.92,847.25 L286.70,847.54 L286.37,847.88 L285.90,848.31 L284.91,849.10 L283.87,849.89 L283.27,850.32 L282.72,850.66 L282.19,850.95 L281.66,851.21 L281.11,851.44 L280.56,851.65 L279.98,851.84 L279.38,852.00 L278.75,852.15 L278.10,852.28 L277.41,852.39 L276.69,852.49 L275.91,852.56 L275.07,852.62 L274.12,852.67 L272.98,852.69 L270.90,852.70 L268.84,852.69 L267.77,852.67 L266.93,852.62 L266.24,852.56 L265.66,852.49 L265.17,852.39 L264.77,852.28 L264.45,852.15 L264.20,852.00 L264.03,851.84 L263.93,851.65 L263.90,851.44 L263.90,835.59 L263.93,835.80 L264.03,835.98 L264.20,836.15 L264.45,836.30 L264.77,836.43 L265.17,836.54 L265.66,836.63 L266.24,836.71 L266.93,836.77 L267.77,836.81 L268.84,836.84 L270.90,836.85 L272.98,836.84 L274.12,836.81 L275.07,836.77 L275.91,836.71 L276.69,836.63 L277.41,836.54 L278.10,836.43 L278.75,836.30 L279.38,836.15 L279.98,835.98 L280.56,835.80 L281.11,835.59 L281.66,835.36 L282.19,835.10 L282.72,834.80 L283.27,834.46 L283.87,834.04 L284.91,833.25 L285.90,832.45 L286.37,832.03 L286.70,831.69 L286.92,831.40 L287.05,831.14 L287.10,830.90 Z" fill="url(#g1)" stroke="#161616" stroke-width="2.4" stroke-linejoin="round"/>
<path d="M284.91,833.25 L285.90,832.45 L286.37,832.03 L286.70,831.69 L286.92,831.40 L287.05,831.14 L287.10,830.90 L287.07,830.70 L286.97,830.51 L286.80,830.34 L286.55,830.19 L286.23,830.07 L285.83,829.95 L285.34,829.86 L284.76,829.78 L284.07,829.72 L283.23,829.68 L282.16,829.65 L280.10,829.65 L278.02,829.65 L276.88,829.68 L275.93,829.72 L275.09,829.78 L274.31,829.86 L273.59,829.95 L272.90,830.07 L272.25,830.19 L271.62,830.34 L271.02,830.51 L270.44,830.70 L269.89,830.90 L269.34,831.14 L268.81,831.40 L268.28,831.69 L267.73,832.03 L267.13,832.45 L266.09,833.25 L265.10,834.04 L264.63,834.46 L264.30,834.80 L264.08,835.10 L263.95,835.36 L263.90,835.59 L263.93,835.80 L264.03,835.98 L264.20,836.15 L264.45,836.30 L264.77,836.43 L265.17,836.54 L265.66,836.63 L266.24,836.71 L266.93,836.77 L267.77,836.81 L268.84,836.84 L270.90,836.85 L272.98,836.84 L274.12,836.81 L275.07,836.77 L275.91,836.71 L276.69,836.63 L277.41,836.54 L278.10,836.43 L278.75,836.30 L279.38,836.15 L279.98,835.98 L280.56,835.80 L281.11,835.59 L281.66,835.36 L282.19,835.10 L282.72,834.80 L283.27,834.46 L283.87,834.04 Z" fill="#a4a4a4" stroke="#161616" stroke-width="2.4" stroke-linejoin="round"/>
<path d="M310.70,582.53 L310.70,846.76 L310.65,846.99 L310.52,847.25 L310.30,847.54 L309.97,847.88 L309.50,848.31 L308.51,849.10 L307.47,849.89 L306.87,850.32 L306.32,850.66 L305.79,850.95 L305.26,851.21 L304.71,851.44 L304.16,851.65 L303.58,851.84 L302.98,852.00 L302.35,852.15 L301.70,852.28 L301.01,852.39 L300.29,852.49 L299.51,852.56 L298.67,852.62 L297.72,852.67 L296.58,852.69 L294.50,852.70 L292.44,852.69 L291.37,852.67 L290.53,852.62 L289.84,852.56 L289.26,852.49 L288.77,852.39 L288.37,852.28 L288.05,852.15 L287.80,852.00 L287.63,851.84 L287.53,851.65 L287.50,851.44 L287.50,587.22 L287.53,587.43 L287.63,587.61 L287.80,587.78 L288.05,587.93 L288.37,588.06 L288.77,588.17 L289.26,588.26 L289.84,588.34 L290.53,588.40 L291.37,588.44 L292.44,588.47 L294.50,588.48 L296.58,588.47 L297.72,588.44 L298.67,588.40 L299.51,588.34 L300.29,588.26 L301.01,588.17 L301.70,588.06 L302.35,587.93 L302.98,587.78 L303.58,587.61 L304.16,587.43 L304.71,587.22 L305.26,586.99 L305.79,586.73 L306.32,586.43 L306.87,586.09 L307.47,585.67 L308.51,584.88 L309.50,584.08 L309.97,583.66 L310.30,583.32 L310.52,583.02 L310.65,582.76 L310.70,582.53 Z" fill="url(#g2)" stroke="#161616" stroke-width="2.4" stroke-linejoin="round"/>
<path d="M308.51,584.88 L309.50,584.08 L309.97,583.66 L310.30,583.32 L310.52,583.02 L310.65,582.76 L310.70,582.53 L310.67,582.32 L310.57,582.14 L310.40,581.97 L310.15,581.82 L309.83,581.69 L309.43,581.58 L308.94,581.49 L308.36,581.41 L307.67,581.35 L306.83,581.31 L305.76,581.28 L303.70,581.27 L301.62,581.28 L300.48,581.31 L299.53,581.35 L298.69,581.41 L297.91,581.49 L297.19,581.58 L296.50,581.69 L295.85,581.82 L295.22,581.97 L294.62,582.14 L294.04,582.32 L293.49,582.53 L292.94,582.76 L292.41,583.02 L291.88,583.32 L291.33,583.66 L290.73,584.08 L289.69,584.87 L288.70,585.67 L288.23,586.09 L287.90,586.43 L287.68,586.73 L287.55,586.99 L287.50,587.22 L287.53,587.43 L287.63,587.61 L287.80,587.78 L288.05,587.93 L288.37,588.06 L288.77,588.17 L289.26,588.26 L289.84,588.34 L290.53,588.40 L291.37,588.44 L292.44,588.47 L294.50,588.48 L296.58,588.47 L297.72,588.44 L298.67,588.40 L299.51,588.34 L300.29,588.26 L301.01,588.17 L301.70,588.06 L302.35,587.93 L302.98,587.78 L303.58,587.61 L304.16,587.43 L304.71,587.22 L305.26,586.99 L305.79,586.73 L306.32,586.43 L306.87,586.09 L307.47,585.67 Z" fill="#868686" stroke="#161616" stroke-width="2.4" stroke-linejoin="round"/>
<path d="M334.30,547.30 L334.30,846.76 L334.25,846.99 L334.12,847.25 L333.90,847.54 L333.57,847.88 L333.10,848.31 L332.11,849.10 L331.07,849.89 L330.47,850.32 L329.92,850.66 L329.39,850.95 L328.86,851.21 L328.31,851.44 L327.76,851.65 L327.18,851.84 L326.58,852.00 L325.95,852.15 L325.30,852.28 L324.61,852.39 L323.89,852.49 L323.11,852.56 L322.27,852.62 L321.32,852.67 L320.18,852.69 L318.10,852.70 L316.04,852.69 L314.97,852.67 L314.13,852.62 L313.44,852.56 L312.86,852.49 L312.37,852.39 L311.97,852.28 L311.65,852.15 L311.40,852.00 L311.23,851.84 L311.13,851.65 L311.10,851.44 L311.10,551.99 L311.13,552.20 L311.23,552.38 L311.40,552.55 L311.65,552.70 L311.97,552.83 L312.37,552.94 L312.86,553.03 L313.44,553.11 L314.13,553.17 L314.97,553.21 L316.04,553.24 L318.10,553.25 L320.18,553.24 L321.32,553.21 L322.27,553.17 L323.11,553.11 L323.89,553.03 L324.61,552.94 L325.30,552.83 L325.95,552.70 L326.58,552.55 L327.18,552.38 L327.76,552.20 L328.31,551.99 L328.86,551.76 L329.39,551.50 L329.92,551.20 L330.47,550.86 L331.07,550.44 L332.11,549.65 L333.10,548.85 L333.57,548.43 L333.90,548.09 L334.12,547.79 L334.25,547.53 L334.30,547.30 Z" fill="url(#g3)" stroke="#161616" stroke-width="2.4" stroke-linejoin="round"/>
<path d="M332.11,549.65 L333.10,548.85 L333.57,548.43 L333.90,548.09 L334.12,547.79 L334.25,547.53 L334.30,547.30 L334.27,547.09 L334.17,546.91 L334.00,546.74 L333.75,546.59 L333.43,546.46 L333.03,546.35 L332.54,546.26 L331.96,546.18 L331.27,546.12 L330.43,546.08 L329.36,546.05 L327.30,546.05 L325.22,546.05 L324.08,546.08 L323.13,546.12 L322.29,546.18 L321.51,546.26 L320.79,546.35 L320.10,546.46 L319.45,546.59 L318.82,546.74 L318.22,546.91 L317.64,547.09 L317.09,547.30 L316.54,547.53 L316.01,547.79 L315.48,548.09 L314.93,548.43 L314.33,548.85 L313.29,549.64 L312.30,550.44 L311.83,550.86 L311.50,551.20 L311.28,551.50 L311.15,551.76 L311.10,551.99 L311.13,552.20 L311.23,552.38 L311.40,552.55 L311.65,552.70 L311.97,552.83 L312.37,552.94 L312.86,553.03 L313.44,553.11 L314.13,553.17 L314.97,553.21 L316.04,553.24 L318.10,553.25 L320.18,553.24 L321.32,553.21 L322.27,553.17 L323.11,553.11 L323.89,553.03 L324.61,552.94 L325.30,552.83 L325.95,552.70 L326.58,552.55 L327.18,552.38 L327.76,552.20 L328.31,551.99 L328.86,551.76 L329.39,551.50 L329.92,551.20 L330.47,550.86 L331.07,550.44 Z" fill="#5e5e5e" stroke="#161616" stroke-width="2.4" stroke-linejoin="round"/>
<path d="M391.11,849.10 L392.10,848.40 L392.57,848.02 L392.90,847.72 L393.12,847.45 L393.25,847.22 L393.30,847.02 L393.27,846.83 L393.17,846.67 L393.00,846.52 L392.75,846.39 L392.43,846.27 L392.03,846.17 L391.54,846.09 L390.96,846.02 L390.27,845.97 L389.43,845.93 L388.36,845.91 L386.30,845.90 L384.22,845.91 L383.08,845.93 L382.13,845.97 L381.29,846.02 L380.51,846.09 L379.79,846.17 L379.10,846.27 L378.45,846.39 L377.82,846.52 L377.22,846.67 L376.64,846.83 L376.09,847.02 L375.54,847.22 L375.01,847.45 L374.48,847.72 L373.93,848.02 L373.33,848.40 L372.29,849.10 L371.30,849.80 L370.83,850.18 L370.50,850.48 L370.28,850.75 L370.15,850.98 L370.10,851.18 L370.13,851.37 L370.23,851.53 L370.40,851.68 L370.65,851.81 L370.97,851.93 L371.37,852.03 L371.86,852.11 L372.44,852.18 L373.13,852.23 L373.97,852.27 L375.04,852.29 L377.10,852.30 L379.18,852.29 L380.32,852.27 L381.27,852.23 L382.11,852.18 L382.89,852.11 L383.61,852.03 L384.30,851.93 L384.95,851.81 L385.58,851.68 L386.18,851.53 L386.76,851.37 L387.31,851.18 L387.86,850.98 L388.39,850.75 L388.92,850.48 L389.47,850.18 L390.07,849.80 Z" fill="#8e8e8e" stroke="#2a2a2a" stroke-width="2.2" stroke-linejoin="round"/>
<path d="M416.90,833.02 L416.90,846.76 L416.85,846.99 L416.72,847.25 L416.50,847.54 L416.17,847.88 L415.70,848.31 L414.71,849.10 L413.67,849.89 L413.07,850.32 L412.52,850.66 L411.99,850.95 L411.46,851.21 L410.91,851.44 L410.36,851.65 L409.78,851.84 L409.18,852.00 L408.55,852.15 L407.90,852.28 L407.21,852.39 L406.49,852.49 L405.71,852.56 L404.87,852.62 L403.92,852.67 L402.78,852.69 L400.70,852.70 L398.64,852.69 L397.57,852.67 L396.73,852.62 L396.04,852.56 L395.46,852.49 L394.97,852.39 L394.57,852.28 L394.25,852.15 L394.00,852.00 L393.83,851.84 L393.73,851.65 L393.70,851.44 L393.70,837.70 L393.73,837.91 L393.83,838.10 L394.00,838.26 L394.25,838.41 L394.57,838.54 L394.97,838.65 L395.46,838.75 L396.04,838.82 L396.73,838.88 L397.57,838.93 L398.64,838.95 L400.70,838.96 L402.78,838.95 L403.92,838.93 L404.87,838.88 L405.71,838.82 L406.49,838.75 L407.21,838.65 L407.90,838.54 L408.55,838.41 L409.18,838.26 L409.78,838.10 L410.36,837.91 L410.91,837.70 L411.46,837.47 L411.99,837.21 L412.52,836.92 L413.07,836.58 L413.67,836.15 L414.71,835.36 L415.70,834.57 L416.17,834.14 L416.50,833.80 L416.72,833.51 L416.85,833.25 L416.90,833.02 Z" fill="url(#g2)" stroke="#161616" stroke-width="2.4" stroke-linejoin="round"/>
<path d="M414.71,835.36 L415.70,834.57 L416.17,834.14 L416.50,833.80 L416.72,833.51 L416.85,833.25 L416.90,833.02 L416.87,832.81 L416.77,832.62 L416.60,832.46 L416.35,832.31 L416.03,832.18 L415.63,832.07 L415.14,831.97 L414.56,831.90 L413.87,831.84 L413.03,831.79 L411.96,831.77 L409.90,831.76 L407.82,831.77 L406.68,831.79 L405.73,831.84 L404.89,831.90 L404.11,831.97 L403.39,832.07 L402.70,832.18 L402.05,832.31 L401.42,832.46 L400.82,832.62 L400.24,832.81 L399.69,833.02 L399.14,833.25 L398.61,833.51 L398.08,833.80 L397.53,834.14 L396.93,834.57 L395.89,835.36 L394.90,836.15 L394.43,836.58 L394.10,836.92 L393.88,837.21 L393.75,837.47 L393.70,837.70 L393.73,837.91 L393.83,838.10 L394.00,838.26 L394.25,838.41 L394.57,838.54 L394.97,838.65 L395.46,838.75 L396.04,838.82 L396.73,838.88 L397.57,838.93 L398.64,838.95 L400.70,838.96 L402.78,838.95 L403.92,838.93 L404.87,838.88 L405.71,838.82 L406.49,838.75 L407.21,838.65 L407.90,838.54 L408.55,838.41 L409.18,838.26 L409.78,838.10 L410.36,837.91 L410.91,837.70 L411.46,837.47 L411.99,837.21 L412.52,836.92 L413.07,836.58 L413.67,836.15 Z" fill="#868686" stroke="#161616" stroke-width="2.4" stroke-linejoin="round"/>
<path d="M440.50,827.73 L440.50,846.76 L440.45,846.99 L440.32,847.25 L440.10,847.54 L439.77,847.88 L439.30,848.31 L438.31,849.10 L437.27,849.89 L436.67,850.32 L436.12,850.66 L435.59,850.95 L435.06,851.21 L434.51,851.44 L433.96,851.65 L433.38,851.84 L432.78,852.00 L432.15,852.15 L431.50,852.28 L430.81,852.39 L430.09,852.49 L429.31,852.56 L428.47,852.62 L427.52,852.67 L426.38,852.69 L424.30,852.70 L422.24,852.69 L421.17,852.67 L420.33,852.62 L419.64,852.56 L419.06,852.49 L418.57,852.39 L418.17,852.28 L417.85,852.15 L417.60,852.00 L417.43,851.84 L417.33,851.65 L417.30,851.44 L417.30,832.42 L417.33,832.63 L417.43,832.81 L417.60,832.98 L417.85,833.13 L418.17,833.26 L418.57,833.37 L419.06,833.46 L419.64,833.54 L420.33,833.60 L421.17,833.64 L422.24,833.67 L424.30,833.68 L426.38,833.67 L427.52,833.64 L428.47,833.60 L429.31,833.54 L430.09,833.46 L430.81,833.37 L431.50,833.26 L432.15,833.13 L432.78,832.98 L433.38,832.81 L433.96,832.63 L434.51,832.42 L435.06,832.19 L435.59,831.93 L436.12,831.63 L436.67,831.29 L437.27,830.87 L438.31,830.08 L439.30,829.28 L439.77,828.86 L440.10,828.52 L440.32,828.22 L440.45,827.97 L440.50,827.73 Z" fill="url(#g3)" stroke="#161616" stroke-width="2.4" stroke-linejoin="round"/>
<path d="M438.31,830.08 L439.30,829.28 L439.77,828.86 L440.10,828.52 L440.32,828.22 L440.45,827.97 L440.50,827.73 L440.47,827.53 L440.37,827.34 L440.20,827.17 L439.95,827.02 L439.63,826.89 L439.23,826.78 L438.74,826.69 L438.16,826.61 L437.47,826.55 L436.63,826.51 L435.56,826.48 L433.50,826.48 L431.42,826.48 L430.28,826.51 L429.33,826.55 L428.49,826.61 L427.71,826.69 L426.99,826.78 L426.30,826.89 L425.65,827.02 L425.02,827.17 L424.42,827.34 L423.84,827.53 L423.29,827.73 L422.74,827.97 L422.21,828.22 L421.68,828.52 L421.13,828.86 L420.53,829.28 L419.49,830.08 L418.50,830.87 L418.03,831.29 L417.70,831.63 L417.48,831.93 L417.35,832.19 L417.30,832.42 L417.33,832.63 L417.43,832.81 L417.60,832.98 L417.85,833.13 L418.17,833.26 L418.57,833.37 L419.06,833.46 L419.64,833.54 L420.33,833.60 L421.17,833.64 L422.24,833.67 L424.30,833.68 L426.38,833.67 L427.52,833.64 L428.47,833.60 L429.31,833.54 L430.09,833.46 L430.81,833.37 L431.50,833.26 L432.15,833.13 L432.78,832.98 L433.38,832.81 L433.96,832.63 L434.51,832.42 L435.06,832.19 L435.59,831.93 L436.12,831.63 L436.67,831.29 L437.27,830.87 Z" fill="#5e5e5e" stroke="#161616" stroke-width="2.4" stroke-linejoin="round"/>
<path d="M497.31,849.10 L498.30,848.40 L498.77,848.02 L499.10,847.72 L499.32,847.45 L499.45,847.22 L499.50,847.02 L499.47,846.83 L499.37,846.67 L499.20,846.52 L498.95,846.39 L498.63,846.27 L498.23,846.17 L497.74,846.09 L497.16,846.02 L496.47,845.97 L495.63,845.93 L494.56,845.91 L492.50,845.90 L490.42,845.91 L489.28,845.93 L488.33,845.97 L487.49,846.02 L486.71,846.09 L485.99,846.17 L485.30,846.27 L484.65,846.39 L484.02,846.52 L483.42,846.67 L482.84,846.83 L482.29,847.02 L481.74,847.22 L481.21,847.45 L480.68,847.72 L480.13,848.02 L479.53,848.40 L478.49,849.10 L477.50,849.80 L477.03,850.18 L476.70,850.48 L476.48,850.75 L476.35,850.98 L476.30,851.18 L476.33,851.37 L476.43,851.53 L476.60,851.68 L476.85,851.81 L477.17,851.93 L477.57,852.03 L478.06,852.11 L478.64,852.18 L479.33,852.23 L480.17,852.27 L481.24,852.29 L483.30,852.30 L485.38,852.29 L486.52,852.27 L487.47,852.23 L488.31,852.18 L489.09,852.11 L489.81,852.03 L490.50,851.93 L491.15,851.81 L491.78,851.68 L492.38,851.53 L492.96,851.37 L493.51,851.18 L494.06,850.98 L494.59,850.75 L495.12,850.48 L495.67,850.18 L496.27,849.80 Z" fill="#8e8e8e" stroke="#2a2a2a" stroke-width="2.2" stroke-linejoin="round"/>
<path d="M523.10,835.13 L523.10,846.76 L523.05,846.99 L522.92,847.25 L522.70,847.54 L522.37,847.88 L521.90,848.31 L520.91,849.10 L519.87,849.89 L519.27,850.32 L518.72,850.66 L518.19,850.95 L517.66,851.21 L517.11,851.44 L516.56,851.65 L515.98,851.84 L515.38,852.00 L514.75,852.15 L514.10,852.28 L513.41,852.39 L512.69,852.49 L511.91,852.56 L511.07,852.62 L510.12,852.67 L508.98,852.69 L506.90,852.70 L504.84,852.69 L503.77,852.67 L502.93,852.62 L502.24,852.56 L501.66,852.49 L501.17,852.39 L500.77,852.28 L500.45,852.15 L500.20,852.00 L500.03,851.84 L499.93,851.65 L499.90,851.44 L499.90,839.82 L499.93,840.02 L500.03,840.21 L500.20,840.38 L500.45,840.53 L500.77,840.66 L501.17,840.77 L501.66,840.86 L502.24,840.94 L502.93,841.00 L503.77,841.04 L504.84,841.07 L506.90,841.07 L508.98,841.07 L510.12,841.04 L511.07,841.00 L511.91,840.94 L512.69,840.86 L513.41,840.77 L514.10,840.66 L514.75,840.53 L515.38,840.38 L515.98,840.21 L516.56,840.02 L517.11,839.82 L517.66,839.58 L518.19,839.33 L518.72,839.03 L519.27,838.69 L519.87,838.27 L520.91,837.47 L521.90,836.68 L522.37,836.26 L522.70,835.92 L522.92,835.62 L523.05,835.36 L523.10,835.13 Z" fill="url(#g2)" stroke="#161616" stroke-width="2.4" stroke-linejoin="round"/>
<path d="M520.91,837.47 L521.90,836.68 L522.37,836.26 L522.70,835.92 L522.92,835.62 L523.05,835.36 L523.10,835.13 L523.07,834.92 L522.97,834.74 L522.80,834.57 L522.55,834.42 L522.23,834.29 L521.83,834.18 L521.34,834.09 L520.76,834.01 L520.07,833.95 L519.23,833.91 L518.16,833.88 L516.10,833.87 L514.02,833.88 L512.88,833.91 L511.93,833.95 L511.09,834.01 L510.31,834.09 L509.59,834.18 L508.90,834.29 L508.25,834.42 L507.62,834.57 L507.02,834.74 L506.44,834.92 L505.89,835.13 L505.34,835.36 L504.81,835.62 L504.28,835.92 L503.73,836.26 L503.13,836.68 L502.09,837.47 L501.10,838.27 L500.63,838.69 L500.30,839.03 L500.08,839.33 L499.95,839.58 L499.90,839.82 L499.93,840.02 L500.03,840.21 L500.20,840.38 L500.45,840.53 L500.77,840.66 L501.17,840.77 L501.66,840.86 L502.24,840.94 L502.93,841.00 L503.77,841.04 L504.84,841.07 L506.90,841.07 L508.98,841.07 L510.12,841.04 L511.07,841.00 L511.91,840.94 L512.69,840.86 L513.41,840.77 L514.10,840.66 L514.75,840.53 L515.38,840.38 L515.98,840.21 L516.56,840.02 L517.11,839.82 L517.66,839.58 L518.19,839.33 L518.72,839.03 L519.27,838.69 L519.87,838.27 Z" fill="#868686" stroke="#161616" stroke-width="2.4" stroke-linejoin="round"/>
<path d="M546.70,696.85 L546.70,846.76 L546.65,846.99 L546.52,847.25 L546.30,847.54 L545.97,847.88 L545.50,848.31 L544.51,849.10 L543.47,849.89 L542.87,850.32 L542.32,850.66 L541.79,850.95 L541.26,851.21 L540.71,851.44 L540.16,851.65 L539.58,851.84 L538.98,852.00 L538.35,852.15 L537.70,852.28 L537.01,852.39 L536.29,852.49 L535.51,852.56 L534.67,852.62 L533.72,852.67 L532.58,852.69 L530.50,852.70 L528.44,852.69 L527.37,852.67 L526.53,852.62 L525.84,852.56 L525.26,852.49 L524.77,852.39 L524.37,852.28 L524.05,852.15 L523.80,852.00 L523.63,851.84 L523.53,851.65 L523.50,851.44 L523.50,701.54 L523.53,701.75 L523.63,701.93 L523.80,702.10 L524.05,702.25 L524.37,702.38 L524.77,702.49 L525.26,702.58 L525.84,702.66 L526.53,702.72 L527.37,702.76 L528.44,702.79 L530.50,702.80 L532.58,702.79 L533.72,702.76 L534.67,702.72 L535.51,702.66 L536.29,702.58 L537.01,702.49 L537.70,702.38 L538.35,702.25 L538.98,702.10 L539.58,701.93 L540.16,701.75 L540.71,701.54 L541.26,701.31 L541.79,701.05 L542.32,700.75 L542.87,700.41 L543.47,699.99 L544.51,699.20 L545.50,698.40 L545.97,697.98 L546.30,697.64 L546.52,697.35 L546.65,697.09 L546.70,696.85 Z" fill="url(#g3)" stroke="#161616" stroke-width="2.4" stroke-linejoin="round"/>
<path d="M544.51,699.20 L545.50,698.40 L545.97,697.98 L546.30,697.64 L546.52,697.35 L546.65,697.09 L546.70,696.85 L546.67,696.65 L546.57,696.46 L546.40,696.29 L546.15,696.14 L545.83,696.02 L545.43,695.90 L544.94,695.81 L544.36,695.73 L543.67,695.67 L542.83,695.63 L541.76,695.60 L539.70,695.60 L537.62,695.60 L536.48,695.63 L535.53,695.67 L534.69,695.73 L533.91,695.81 L533.19,695.90 L532.50,696.02 L531.85,696.14 L531.22,696.29 L530.62,696.46 L530.04,696.65 L529.49,696.85 L528.94,697.09 L528.41,697.35 L527.88,697.64 L527.33,697.98 L526.73,698.40 L525.69,699.20 L524.70,699.99 L524.23,700.41 L523.90,700.75 L523.68,701.05 L523.55,701.31 L523.50,701.54 L523.53,701.75 L523.63,701.93 L523.80,702.10 L524.05,702.25 L524.37,702.38 L524.77,702.49 L525.26,702.58 L525.84,702.66 L526.53,702.72 L527.37,702.76 L528.44,702.79 L530.50,702.80 L532.58,702.79 L533.72,702.76 L534.67,702.72 L535.51,702.66 L536.29,702.58 L537.01,702.49 L537.70,702.38 L538.35,702.25 L538.98,702.10 L539.58,701.93 L540.16,701.75 L540.71,701.54 L541.26,701.31 L541.79,701.05 L542.32,700.75 L542.87,700.41 L543.47,699.99 Z" fill="#5e5e5e" stroke="#161616" stroke-width="2.4" stroke-linejoin="round"/>
<path d="M603.51,849.10 L604.50,848.40 L604.97,848.02 L605.30,847.72 L605.52,847.45 L605.65,847.22 L605.70,847.02 L605.67,846.83 L605.57,846.67 L605.40,846.52 L605.15,846.39 L604.83,846.27 L604.43,846.17 L603.94,846.09 L603.36,846.02 L602.67,845.97 L601.83,845.93 L600.76,845.91 L598.70,845.90 L596.62,845.91 L595.48,845.93 L594.53,845.97 L593.69,846.02 L592.91,846.09 L592.19,846.17 L591.50,846.27 L590.85,846.39 L590.22,846.52 L589.62,846.67 L589.04,846.83 L588.49,847.02 L587.94,847.22 L587.41,847.45 L586.88,847.72 L586.33,848.02 L585.73,848.40 L584.69,849.10 L583.70,849.80 L583.23,850.18 L582.90,850.48 L582.68,850.75 L582.55,850.98 L582.50,851.18 L582.53,851.37 L582.63,851.53 L582.80,851.68 L583.05,851.81 L583.37,851.93 L583.77,852.03 L584.26,852.11 L584.84,852.18 L585.53,852.23 L586.37,852.27 L587.44,852.29 L589.50,852.30 L591.58,852.29 L592.72,852.27 L593.67,852.23 L594.51,852.18 L595.29,852.11 L596.01,852.03 L596.70,851.93 L597.35,851.81 L597.98,851.68 L598.58,851.53 L599.16,851.37 L599.71,851.18 L600.26,850.98 L600.79,850.75 L601.32,850.48 L601.87,850.18 L602.47,849.80 Z" fill="#8e8e8e" stroke="#2a2a2a" stroke-width="2.2" stroke-linejoin="round"/>
<path d="M627.11,849.10 L628.10,848.40 L628.57,848.02 L628.90,847.72 L629.12,847.45 L629.25,847.22 L629.30,847.02 L629.27,846.83 L629.17,846.67 L629.00,846.52 L628.75,846.39 L628.43,846.27 L628.03,846.17 L627.54,846.09 L626.96,846.02 L626.27,845.97 L625.43,845.93 L624.36,845.91 L622.30,845.90 L620.22,845.91 L619.08,845.93 L618.13,845.97 L617.29,846.02 L616.51,846.09 L615.79,846.17 L615.10,846.27 L614.45,846.39 L613.82,846.52 L613.22,846.67 L612.64,846.83 L612.09,847.02 L611.54,847.22 L611.01,847.45 L610.48,847.72 L609.93,848.02 L609.33,848.40 L608.29,849.10 L607.30,849.80 L606.83,850.18 L606.50,850.48 L606.28,850.75 L606.15,850.98 L606.10,851.18 L606.13,851.37 L606.23,851.53 L606.40,851.68 L606.65,851.81 L606.97,851.93 L607.37,852.03 L607.86,852.11 L608.44,852.18 L609.13,852.23 L609.97,852.27 L611.04,852.29 L613.10,852.30 L615.18,852.29 L616.32,852.27 L617.27,852.23 L618.11,852.18 L618.89,852.11 L619.61,852.03 L620.30,851.93 L620.95,851.81 L621.58,851.68 L622.18,851.53 L622.76,851.37 L623.31,851.18 L623.86,850.98 L624.39,850.75 L624.92,850.48 L625.47,850.18 L626.07,849.80 Z" fill="#7a7a7a" stroke="#2a2a2a" stroke-width="2.2" stroke-linejoin="round"/>
<path d="M650.71,849.10 L651.70,848.40 L652.17,848.02 L652.50,847.72 L652.72,847.45 L652.85,847.22 L652.90,847.02 L652.87,846.83 L652.77,846.67 L652.60,846.52 L652.35,846.39 L652.03,846.27 L651.63,846.17 L651.14,846.09 L650.56,846.02 L649.87,845.97 L649.03,845.93 L647.96,845.91 L645.90,845.90 L643.82,845.91 L642.68,845.93 L641.73,845.97 L640.89,846.02 L640.11,846.09 L639.39,846.17 L638.70,846.27 L638.05,846.39 L637.42,846.52 L636.82,846.67 L636.24,846.83 L635.69,847.02 L635.14,847.22 L634.61,847.45 L634.08,847.72 L633.53,848.02 L632.93,848.40 L631.89,849.10 L630.90,849.80 L630.43,850.18 L630.10,850.48 L629.88,850.75 L629.75,850.98 L629.70,851.18 L629.73,851.37 L629.83,851.53 L630.00,851.68 L630.25,851.81 L630.57,851.93 L630.97,852.03 L631.46,852.11 L632.04,852.18 L632.73,852.23 L633.57,852.27 L634.64,852.29 L636.70,852.30 L638.78,852.29 L639.92,852.27 L640.87,852.23 L641.71,852.18 L642.49,852.11 L643.21,852.03 L643.90,851.93 L644.55,851.81 L645.18,851.68 L645.78,851.53 L646.36,851.37 L646.91,851.18 L647.46,850.98 L647.99,850.75 L648.52,850.48 L649.07,850.18 L649.67,849.80 Z" fill="#626262" stroke="#2a2a2a" stroke-width="2.2" stroke-linejoin="round"/>
</g>
<text x="137.60" y="875.2" font-size="21.75">YSPTSPS Y<tspan class="b">S</tspan>PTSPS YSPT<tspan class="b">S</tspan>PS Y<tspan class="b">S</tspan>PT<tspan class="b">S</tspan>PS no peptide</text>
<rect x="258.68" y="876.80" width="14.11" height="1.30" fill="#111"/>
<rect x="407.35" y="876.80" width="14.11" height="1.30" fill="#111"/>
<rect x="471.42" y="876.80" width="14.11" height="1.30" fill="#111"/>
<rect x="513.72" y="876.80" width="14.11" height="1.30" fill="#111"/>
</g>
<g transform="rotate(0 406 690)">
<polygon points="143.5,898.3 669.8,898.3 669.8,1132.6 143.5,1132.6" fill="#fcfcfc" stroke="#1e1e1e" stroke-width="1.9" stroke-linejoin="miter"/>
<polygon points="136.9,905.4 143.5,898.3 143.5,1132.6 136.9,1139.6" fill="#fdfdfd" stroke="#1e1e1e" stroke-width="1.9" stroke-linejoin="round"/>
<polygon points="136.9,1139.6 143.5,1132.6 669.8,1132.6 659.9,1139.7" fill="#fdfdfd" stroke="#1e1e1e" stroke-width="1.9" stroke-linejoin="round"/>
<line x1="130.9" y1="1139.6" x2="136.9" y2="1139.6" stroke="#1e1e1e" stroke-width="1.9"/>
<text x="129.3" y="1146.2" font-size="24" text-anchor="end" style="fill:#2a2a2a;stroke:#2a2a2a">0</text>
<line x1="130.9" y1="1100.6" x2="136.9" y2="1100.6" stroke="#1e1e1e" stroke-width="1.9"/>
<text x="129.3" y="1107.2" font-size="24" text-anchor="end" style="fill:#2a2a2a;stroke:#2a2a2a">0,1</text>
<line x1="130.9" y1="1061.5" x2="136.9" y2="1061.5" stroke="#1e1e1e" stroke-width="1.9"/>
<text x="129.3" y="1068.1" font-size="24" text-anchor="end" style="fill:#2a2a2a;stroke:#2a2a2a">0,2</text>
<line x1="130.9" y1="1022.5" x2="136.9" y2="1022.5" stroke="#1e1e1e" stroke-width="1.9"/>
<text x="129.3" y="1029.1" font-size="24" text-anchor="end" style="fill:#2a2a2a;stroke:#2a2a2a">0,3</text>
<line x1="130.9" y1="983.5" x2="136.9" y2="983.5" stroke="#1e1e1e" stroke-width="1.9"/>
<text x="129.3" y="990.1" font-size="24" text-anchor="end" style="fill:#2a2a2a;stroke:#2a2a2a">0,4</text>
<line x1="130.9" y1="944.4" x2="136.9" y2="944.4" stroke="#1e1e1e" stroke-width="1.9"/>
<text x="129.3" y="951.0" font-size="24" text-anchor="end" style="fill:#2a2a2a;stroke:#2a2a2a">0,5</text>
<line x1="130.9" y1="905.4" x2="136.9" y2="905.4" stroke="#1e1e1e" stroke-width="1.9"/>
<text x="129.3" y="912.0" font-size="24" text-anchor="end" style="fill:#2a2a2a;stroke:#2a2a2a">0,6</text>
<line x1="136.9" y1="1139.6" x2="136.9" y2="1145.6" stroke="#1e1e1e" stroke-width="1.9"/>
<line x1="241.5" y1="1139.6" x2="241.5" y2="1145.6" stroke="#1e1e1e" stroke-width="1.9"/>
<line x1="346.1" y1="1139.6" x2="346.1" y2="1145.6" stroke="#1e1e1e" stroke-width="1.9"/>
<line x1="450.7" y1="1139.6" x2="450.7" y2="1145.6" stroke="#1e1e1e" stroke-width="1.9"/>
<line x1="555.3" y1="1139.6" x2="555.3" y2="1145.6" stroke="#1e1e1e" stroke-width="1.9"/>
<line x1="659.9" y1="1139.6" x2="659.9" y2="1145.6" stroke="#1e1e1e" stroke-width="1.9"/>
<text transform="translate(408.0,940.2) scale(1,1.06)" font-size="31" class="b" text-anchor="middle" style="stroke-width:0.7px">MPM-2</text>
<rect x="557.4" y="914.6" width="99.1" height="151.4" fill="#fcfcfc" stroke="#1e1e1e" stroke-width="1.7"/>
<rect x="568.5" y="934.6" width="10" height="10" fill="#fafafa" stroke="#222" stroke-width="1.6"/>
<text x="586.0" y="946.8" font-size="23.7" style="fill:#2a2a2a;stroke:#2a2a2a">0.1 ug</text>
<rect x="568.5" y="984.2" width="10" height="10" fill="#9a9a9a" stroke="#222" stroke-width="1.6"/>
<text x="586.0" y="996.4" font-size="23.7" style="fill:#2a2a2a;stroke:#2a2a2a">0.5 ug</text>
<rect x="568.5" y="1032.4" width="10" height="10" fill="#6a6a6a" stroke="#222" stroke-width="1.6"/>
<text x="586.0" y="1044.6" font-size="23.7" style="fill:#2a2a2a;stroke:#2a2a2a">1.0 ug</text>
<g filter="url(#grain)">
<path d="M180.70,922.60 L180.70,1133.36 L180.66,1133.59 L180.55,1133.85 L180.35,1134.14 L180.04,1134.48 L179.59,1134.91 L178.64,1135.70 L177.65,1136.49 L177.07,1136.92 L176.54,1137.26 L176.02,1137.55 L175.50,1137.81 L174.97,1138.04 L174.43,1138.25 L173.86,1138.44 L173.27,1138.60 L172.65,1138.75 L172.00,1138.88 L171.32,1138.99 L170.60,1139.09 L169.82,1139.16 L168.98,1139.22 L168.03,1139.27 L166.89,1139.29 L164.80,1139.30 L162.73,1139.29 L161.65,1139.27 L160.81,1139.22 L160.11,1139.16 L159.52,1139.09 L159.03,1138.99 L158.62,1138.88 L158.29,1138.75 L158.03,1138.60 L157.85,1138.44 L157.74,1138.25 L157.70,1138.04 L157.70,927.28 L157.74,927.49 L157.85,927.68 L158.03,927.84 L158.29,927.99 L158.62,928.12 L159.03,928.23 L159.52,928.32 L160.11,928.40 L160.81,928.46 L161.65,928.50 L162.73,928.53 L164.80,928.54 L166.89,928.53 L168.03,928.50 L168.98,928.46 L169.82,928.40 L170.60,928.32 L171.32,928.23 L172.00,928.12 L172.65,927.99 L173.27,927.84 L173.86,927.68 L174.43,927.49 L174.97,927.28 L175.50,927.05 L176.02,926.79 L176.54,926.50 L177.07,926.15 L177.65,925.73 L178.64,924.94 L179.59,924.14 L180.04,923.72 L180.35,923.38 L180.55,923.09 L180.66,922.83 L180.70,922.60 Z" fill="url(#g1)" stroke="#161616" stroke-width="2.4" stroke-linejoin="round"/>
<path d="M178.64,924.94 L179.59,924.14 L180.04,923.72 L180.35,923.38 L180.55,923.09 L180.66,922.83 L180.70,922.60 L180.66,922.39 L180.55,922.20 L180.37,922.03 L180.11,921.89 L179.78,921.76 L179.37,921.65 L178.88,921.55 L178.29,921.47 L177.59,921.41 L176.75,921.37 L175.67,921.35 L173.60,921.34 L171.51,921.35 L170.37,921.37 L169.42,921.41 L168.58,921.47 L167.80,921.55 L167.08,921.65 L166.40,921.76 L165.75,921.89 L165.13,922.03 L164.54,922.20 L163.97,922.39 L163.43,922.60 L162.90,922.83 L162.38,923.09 L161.86,923.38 L161.33,923.72 L160.75,924.14 L159.76,924.94 L158.81,925.73 L158.36,926.15 L158.05,926.50 L157.85,926.79 L157.74,927.05 L157.70,927.28 L157.74,927.49 L157.85,927.68 L158.03,927.84 L158.29,927.99 L158.62,928.12 L159.03,928.23 L159.52,928.32 L160.11,928.40 L160.81,928.46 L161.65,928.50 L162.73,928.53 L164.80,928.54 L166.89,928.53 L168.03,928.50 L168.98,928.46 L169.82,928.40 L170.60,928.32 L171.32,928.23 L172.00,928.12 L172.65,927.99 L173.27,927.84 L173.86,927.68 L174.43,927.49 L174.97,927.28 L175.50,927.05 L176.02,926.79 L176.54,926.50 L177.07,926.15 L177.65,925.73 Z" fill="#a4a4a4" stroke="#161616" stroke-width="2.4" stroke-linejoin="round"/>
<path d="M204.00,942.11 L204.00,1133.36 L203.96,1133.59 L203.85,1133.85 L203.65,1134.14 L203.34,1134.48 L202.89,1134.91 L201.94,1135.70 L200.95,1136.49 L200.37,1136.92 L199.84,1137.26 L199.32,1137.55 L198.80,1137.81 L198.27,1138.04 L197.73,1138.25 L197.16,1138.44 L196.57,1138.60 L195.95,1138.75 L195.30,1138.88 L194.62,1138.99 L193.90,1139.09 L193.12,1139.16 L192.28,1139.22 L191.33,1139.27 L190.19,1139.29 L188.10,1139.30 L186.03,1139.29 L184.95,1139.27 L184.11,1139.22 L183.41,1139.16 L182.82,1139.09 L182.33,1138.99 L181.92,1138.88 L181.59,1138.75 L181.33,1138.60 L181.15,1138.44 L181.04,1138.25 L181.00,1138.04 L181.00,946.80 L181.04,947.00 L181.15,947.19 L181.33,947.36 L181.59,947.50 L181.92,947.63 L182.33,947.75 L182.82,947.84 L183.41,947.92 L184.11,947.98 L184.95,948.02 L186.03,948.04 L188.10,948.05 L190.19,948.04 L191.33,948.02 L192.28,947.98 L193.12,947.92 L193.90,947.84 L194.62,947.75 L195.30,947.63 L195.95,947.50 L196.57,947.36 L197.16,947.19 L197.73,947.00 L198.27,946.80 L198.80,946.56 L199.32,946.30 L199.84,946.01 L200.37,945.67 L200.95,945.25 L201.94,944.45 L202.89,943.66 L203.34,943.24 L203.65,942.90 L203.85,942.60 L203.96,942.34 L204.00,942.11 Z" fill="url(#g2)" stroke="#161616" stroke-width="2.4" stroke-linejoin="round"/>
<path d="M201.94,944.45 L202.89,943.66 L203.34,943.24 L203.65,942.90 L203.85,942.60 L203.96,942.34 L204.00,942.11 L203.96,941.90 L203.85,941.72 L203.67,941.55 L203.41,941.40 L203.08,941.27 L202.67,941.16 L202.18,941.07 L201.59,940.99 L200.89,940.93 L200.05,940.89 L198.97,940.86 L196.90,940.85 L194.81,940.86 L193.67,940.89 L192.72,940.93 L191.88,940.99 L191.10,941.07 L190.38,941.16 L189.70,941.27 L189.05,941.40 L188.43,941.55 L187.84,941.72 L187.27,941.90 L186.73,942.11 L186.20,942.34 L185.68,942.60 L185.16,942.90 L184.63,943.24 L184.05,943.66 L183.06,944.45 L182.11,945.25 L181.66,945.67 L181.35,946.01 L181.15,946.30 L181.04,946.56 L181.00,946.80 L181.04,947.00 L181.15,947.19 L181.33,947.36 L181.59,947.50 L181.92,947.63 L182.33,947.75 L182.82,947.84 L183.41,947.92 L184.11,947.98 L184.95,948.02 L186.03,948.04 L188.10,948.05 L190.19,948.04 L191.33,948.02 L192.28,947.98 L193.12,947.92 L193.90,947.84 L194.62,947.75 L195.30,947.63 L195.95,947.50 L196.57,947.36 L197.16,947.19 L197.73,947.00 L198.27,946.80 L198.80,946.56 L199.32,946.30 L199.84,946.01 L200.37,945.67 L200.95,945.25 Z" fill="#868686" stroke="#161616" stroke-width="2.4" stroke-linejoin="round"/>
<path d="M227.30,922.60 L227.30,1133.36 L227.26,1133.59 L227.15,1133.85 L226.95,1134.14 L226.64,1134.48 L226.19,1134.91 L225.24,1135.70 L224.25,1136.49 L223.67,1136.92 L223.14,1137.26 L222.62,1137.55 L222.10,1137.81 L221.57,1138.04 L221.03,1138.25 L220.46,1138.44 L219.87,1138.60 L219.25,1138.75 L218.60,1138.88 L217.92,1138.99 L217.20,1139.09 L216.42,1139.16 L215.58,1139.22 L214.63,1139.27 L213.49,1139.29 L211.40,1139.30 L209.33,1139.29 L208.25,1139.27 L207.41,1139.22 L206.71,1139.16 L206.12,1139.09 L205.63,1138.99 L205.22,1138.88 L204.89,1138.75 L204.63,1138.60 L204.45,1138.44 L204.34,1138.25 L204.30,1138.04 L204.30,927.28 L204.34,927.49 L204.45,927.68 L204.63,927.84 L204.89,927.99 L205.22,928.12 L205.63,928.23 L206.12,928.32 L206.71,928.40 L207.41,928.46 L208.25,928.50 L209.33,928.53 L211.40,928.54 L213.49,928.53 L214.63,928.50 L215.58,928.46 L216.42,928.40 L217.20,928.32 L217.92,928.23 L218.60,928.12 L219.25,927.99 L219.87,927.84 L220.46,927.68 L221.03,927.49 L221.57,927.28 L222.10,927.05 L222.62,926.79 L223.14,926.50 L223.67,926.15 L224.25,925.73 L225.24,924.94 L226.19,924.14 L226.64,923.72 L226.95,923.38 L227.15,923.09 L227.26,922.83 L227.30,922.60 Z" fill="url(#g3)" stroke="#161616" stroke-width="2.4" stroke-linejoin="round"/>
<path d="M225.24,924.94 L226.19,924.14 L226.64,923.72 L226.95,923.38 L227.15,923.09 L227.26,922.83 L227.30,922.60 L227.26,922.39 L227.15,922.20 L226.97,922.03 L226.71,921.89 L226.38,921.76 L225.97,921.65 L225.48,921.55 L224.89,921.47 L224.19,921.41 L223.35,921.37 L222.27,921.35 L220.20,921.34 L218.11,921.35 L216.97,921.37 L216.02,921.41 L215.18,921.47 L214.40,921.55 L213.68,921.65 L213.00,921.76 L212.35,921.89 L211.73,922.03 L211.14,922.20 L210.57,922.39 L210.03,922.60 L209.50,922.83 L208.98,923.09 L208.46,923.38 L207.93,923.72 L207.35,924.14 L206.36,924.94 L205.41,925.73 L204.96,926.15 L204.65,926.50 L204.45,926.79 L204.34,927.05 L204.30,927.28 L204.34,927.49 L204.45,927.68 L204.63,927.84 L204.89,927.99 L205.22,928.12 L205.63,928.23 L206.12,928.32 L206.71,928.40 L207.41,928.46 L208.25,928.50 L209.33,928.53 L211.40,928.54 L213.49,928.53 L214.63,928.50 L215.58,928.46 L216.42,928.40 L217.20,928.32 L217.92,928.23 L218.60,928.12 L219.25,927.99 L219.87,927.84 L220.46,927.68 L221.03,927.49 L221.57,927.28 L222.10,927.05 L222.62,926.79 L223.14,926.50 L223.67,926.15 L224.25,925.73 Z" fill="#5e5e5e" stroke="#161616" stroke-width="2.4" stroke-linejoin="round"/>
<path d="M283.24,1135.70 L284.19,1135.00 L284.64,1134.62 L284.95,1134.32 L285.15,1134.05 L285.26,1133.82 L285.30,1133.62 L285.26,1133.43 L285.15,1133.27 L284.97,1133.12 L284.71,1132.99 L284.38,1132.87 L283.97,1132.77 L283.48,1132.69 L282.89,1132.62 L282.19,1132.57 L281.35,1132.53 L280.27,1132.51 L278.20,1132.50 L276.11,1132.51 L274.97,1132.53 L274.02,1132.57 L273.18,1132.62 L272.40,1132.69 L271.68,1132.77 L271.00,1132.87 L270.35,1132.99 L269.73,1133.12 L269.14,1133.27 L268.57,1133.43 L268.03,1133.62 L267.50,1133.82 L266.98,1134.05 L266.46,1134.32 L265.93,1134.62 L265.35,1135.00 L264.36,1135.70 L263.41,1136.40 L262.96,1136.78 L262.65,1137.08 L262.45,1137.35 L262.34,1137.58 L262.30,1137.78 L262.34,1137.97 L262.45,1138.13 L262.63,1138.28 L262.89,1138.41 L263.22,1138.53 L263.63,1138.63 L264.12,1138.71 L264.71,1138.78 L265.41,1138.83 L266.25,1138.87 L267.33,1138.89 L269.40,1138.90 L271.49,1138.89 L272.63,1138.87 L273.58,1138.83 L274.42,1138.78 L275.20,1138.71 L275.92,1138.63 L276.60,1138.53 L277.25,1138.41 L277.87,1138.28 L278.46,1138.13 L279.03,1137.97 L279.57,1137.78 L280.10,1137.58 L280.62,1137.35 L281.14,1137.08 L281.67,1136.78 L282.25,1136.40 Z" fill="#8e8e8e" stroke="#2a2a2a" stroke-width="2.2" stroke-linejoin="round"/>
<path d="M308.60,1113.84 L308.60,1133.36 L308.56,1133.59 L308.45,1133.85 L308.25,1134.14 L307.94,1134.48 L307.49,1134.91 L306.54,1135.70 L305.55,1136.49 L304.97,1136.92 L304.44,1137.26 L303.92,1137.55 L303.40,1137.81 L302.87,1138.04 L302.33,1138.25 L301.76,1138.44 L301.17,1138.60 L300.55,1138.75 L299.90,1138.88 L299.22,1138.99 L298.50,1139.09 L297.72,1139.16 L296.88,1139.22 L295.93,1139.27 L294.79,1139.29 L292.70,1139.30 L290.63,1139.29 L289.55,1139.27 L288.71,1139.22 L288.01,1139.16 L287.42,1139.09 L286.93,1138.99 L286.52,1138.88 L286.19,1138.75 L285.93,1138.60 L285.75,1138.44 L285.64,1138.25 L285.60,1138.04 L285.60,1118.53 L285.64,1118.74 L285.75,1118.92 L285.93,1119.09 L286.19,1119.24 L286.52,1119.37 L286.93,1119.48 L287.42,1119.57 L288.01,1119.65 L288.71,1119.71 L289.55,1119.75 L290.63,1119.78 L292.70,1119.78 L294.79,1119.78 L295.93,1119.75 L296.88,1119.71 L297.72,1119.65 L298.50,1119.57 L299.22,1119.48 L299.90,1119.37 L300.55,1119.24 L301.17,1119.09 L301.76,1118.92 L302.33,1118.74 L302.87,1118.53 L303.40,1118.30 L303.92,1118.04 L304.44,1117.74 L304.97,1117.40 L305.55,1116.98 L306.54,1116.18 L307.49,1115.39 L307.94,1114.97 L308.25,1114.63 L308.45,1114.33 L308.56,1114.07 L308.60,1113.84 Z" fill="url(#g2)" stroke="#161616" stroke-width="2.4" stroke-linejoin="round"/>
<path d="M306.54,1116.18 L307.49,1115.39 L307.94,1114.97 L308.25,1114.63 L308.45,1114.33 L308.56,1114.07 L308.60,1113.84 L308.56,1113.63 L308.45,1113.45 L308.27,1113.28 L308.01,1113.13 L307.68,1113.00 L307.27,1112.89 L306.78,1112.80 L306.19,1112.72 L305.49,1112.66 L304.65,1112.62 L303.57,1112.59 L301.50,1112.58 L299.41,1112.59 L298.27,1112.62 L297.32,1112.66 L296.48,1112.72 L295.70,1112.80 L294.98,1112.89 L294.30,1113.00 L293.65,1113.13 L293.03,1113.28 L292.44,1113.45 L291.87,1113.63 L291.33,1113.84 L290.80,1114.07 L290.28,1114.33 L289.76,1114.63 L289.23,1114.97 L288.65,1115.39 L287.66,1116.18 L286.71,1116.98 L286.26,1117.40 L285.95,1117.74 L285.75,1118.04 L285.64,1118.30 L285.60,1118.53 L285.64,1118.74 L285.75,1118.92 L285.93,1119.09 L286.19,1119.24 L286.52,1119.37 L286.93,1119.48 L287.42,1119.57 L288.01,1119.65 L288.71,1119.71 L289.55,1119.75 L290.63,1119.78 L292.70,1119.78 L294.79,1119.78 L295.93,1119.75 L296.88,1119.71 L297.72,1119.65 L298.50,1119.57 L299.22,1119.48 L299.90,1119.37 L300.55,1119.24 L301.17,1119.09 L301.76,1118.92 L302.33,1118.74 L302.87,1118.53 L303.40,1118.30 L303.92,1118.04 L304.44,1117.74 L304.97,1117.40 L305.55,1116.98 Z" fill="#868686" stroke="#161616" stroke-width="2.4" stroke-linejoin="round"/>
<path d="M331.90,1109.94 L331.90,1133.36 L331.86,1133.59 L331.75,1133.85 L331.55,1134.14 L331.24,1134.48 L330.79,1134.91 L329.84,1135.70 L328.85,1136.49 L328.27,1136.92 L327.74,1137.26 L327.22,1137.55 L326.70,1137.81 L326.17,1138.04 L325.63,1138.25 L325.06,1138.44 L324.47,1138.60 L323.85,1138.75 L323.20,1138.88 L322.52,1138.99 L321.80,1139.09 L321.02,1139.16 L320.18,1139.22 L319.23,1139.27 L318.09,1139.29 L316.00,1139.30 L313.93,1139.29 L312.85,1139.27 L312.01,1139.22 L311.31,1139.16 L310.72,1139.09 L310.23,1138.99 L309.82,1138.88 L309.49,1138.75 L309.23,1138.60 L309.05,1138.44 L308.94,1138.25 L308.90,1138.04 L308.90,1114.62 L308.94,1114.83 L309.05,1115.02 L309.23,1115.19 L309.49,1115.33 L309.82,1115.46 L310.23,1115.57 L310.72,1115.67 L311.31,1115.75 L312.01,1115.81 L312.85,1115.85 L313.93,1115.87 L316.00,1115.88 L318.09,1115.87 L319.23,1115.85 L320.18,1115.81 L321.02,1115.75 L321.80,1115.67 L322.52,1115.57 L323.20,1115.46 L323.85,1115.33 L324.47,1115.19 L325.06,1115.02 L325.63,1114.83 L326.17,1114.62 L326.70,1114.39 L327.22,1114.13 L327.74,1113.84 L328.27,1113.50 L328.85,1113.08 L329.84,1112.28 L330.79,1111.49 L331.24,1111.07 L331.55,1110.72 L331.75,1110.43 L331.86,1110.17 L331.90,1109.94 Z" fill="url(#g3)" stroke="#161616" stroke-width="2.4" stroke-linejoin="round"/>
<path d="M329.84,1112.28 L330.79,1111.49 L331.24,1111.07 L331.55,1110.72 L331.75,1110.43 L331.86,1110.17 L331.90,1109.94 L331.86,1109.73 L331.75,1109.54 L331.57,1109.38 L331.31,1109.23 L330.98,1109.10 L330.57,1108.99 L330.08,1108.90 L329.49,1108.82 L328.79,1108.76 L327.95,1108.72 L326.87,1108.69 L324.80,1108.68 L322.71,1108.69 L321.57,1108.72 L320.62,1108.76 L319.78,1108.82 L319.00,1108.90 L318.28,1108.99 L317.60,1109.10 L316.95,1109.23 L316.33,1109.38 L315.74,1109.54 L315.17,1109.73 L314.63,1109.94 L314.10,1110.17 L313.58,1110.43 L313.06,1110.72 L312.53,1111.07 L311.95,1111.49 L310.96,1112.28 L310.01,1113.08 L309.56,1113.50 L309.25,1113.84 L309.05,1114.13 L308.94,1114.39 L308.90,1114.62 L308.94,1114.83 L309.05,1115.02 L309.23,1115.19 L309.49,1115.33 L309.82,1115.46 L310.23,1115.57 L310.72,1115.67 L311.31,1115.75 L312.01,1115.81 L312.85,1115.85 L313.93,1115.87 L316.00,1115.88 L318.09,1115.87 L319.23,1115.85 L320.18,1115.81 L321.02,1115.75 L321.80,1115.67 L322.52,1115.57 L323.20,1115.46 L323.85,1115.33 L324.47,1115.19 L325.06,1115.02 L325.63,1114.83 L326.17,1114.62 L326.70,1114.39 L327.22,1114.13 L327.74,1113.84 L328.27,1113.50 L328.85,1113.08 Z" fill="#5e5e5e" stroke="#161616" stroke-width="2.4" stroke-linejoin="round"/>
<path d="M387.84,1135.70 L388.79,1135.00 L389.24,1134.62 L389.55,1134.32 L389.75,1134.05 L389.86,1133.82 L389.90,1133.62 L389.86,1133.43 L389.75,1133.27 L389.57,1133.12 L389.31,1132.99 L388.98,1132.87 L388.57,1132.77 L388.08,1132.69 L387.49,1132.62 L386.79,1132.57 L385.95,1132.53 L384.87,1132.51 L382.80,1132.50 L380.71,1132.51 L379.57,1132.53 L378.62,1132.57 L377.78,1132.62 L377.00,1132.69 L376.28,1132.77 L375.60,1132.87 L374.95,1132.99 L374.33,1133.12 L373.74,1133.27 L373.17,1133.43 L372.63,1133.62 L372.10,1133.82 L371.58,1134.05 L371.06,1134.32 L370.53,1134.62 L369.95,1135.00 L368.96,1135.70 L368.01,1136.40 L367.56,1136.78 L367.25,1137.08 L367.05,1137.35 L366.94,1137.58 L366.90,1137.78 L366.94,1137.97 L367.05,1138.13 L367.23,1138.28 L367.49,1138.41 L367.82,1138.53 L368.23,1138.63 L368.72,1138.71 L369.31,1138.78 L370.01,1138.83 L370.85,1138.87 L371.93,1138.89 L374.00,1138.90 L376.09,1138.89 L377.23,1138.87 L378.18,1138.83 L379.02,1138.78 L379.80,1138.71 L380.52,1138.63 L381.20,1138.53 L381.85,1138.41 L382.47,1138.28 L383.06,1138.13 L383.63,1137.97 L384.17,1137.78 L384.70,1137.58 L385.22,1137.35 L385.74,1137.08 L386.27,1136.78 L386.85,1136.40 Z" fill="#8e8e8e" stroke="#2a2a2a" stroke-width="2.2" stroke-linejoin="round"/>
<path d="M413.20,1117.75 L413.20,1133.36 L413.16,1133.59 L413.05,1133.85 L412.85,1134.14 L412.54,1134.48 L412.09,1134.91 L411.14,1135.70 L410.15,1136.49 L409.57,1136.92 L409.04,1137.26 L408.52,1137.55 L408.00,1137.81 L407.47,1138.04 L406.93,1138.25 L406.36,1138.44 L405.77,1138.60 L405.15,1138.75 L404.50,1138.88 L403.82,1138.99 L403.10,1139.09 L402.32,1139.16 L401.48,1139.22 L400.53,1139.27 L399.39,1139.29 L397.30,1139.30 L395.23,1139.29 L394.15,1139.27 L393.31,1139.22 L392.61,1139.16 L392.02,1139.09 L391.53,1138.99 L391.12,1138.88 L390.79,1138.75 L390.53,1138.60 L390.35,1138.44 L390.24,1138.25 L390.20,1138.04 L390.20,1122.43 L390.24,1122.64 L390.35,1122.83 L390.53,1122.99 L390.79,1123.14 L391.12,1123.27 L391.53,1123.38 L392.02,1123.47 L392.61,1123.55 L393.31,1123.61 L394.15,1123.65 L395.23,1123.68 L397.30,1123.69 L399.39,1123.68 L400.53,1123.65 L401.48,1123.61 L402.32,1123.55 L403.10,1123.47 L403.82,1123.38 L404.50,1123.27 L405.15,1123.14 L405.77,1122.99 L406.36,1122.83 L406.93,1122.64 L407.47,1122.43 L408.00,1122.20 L408.52,1121.94 L409.04,1121.65 L409.57,1121.30 L410.15,1120.88 L411.14,1120.09 L412.09,1119.29 L412.54,1118.87 L412.85,1118.53 L413.05,1118.24 L413.16,1117.98 L413.20,1117.75 Z" fill="url(#g2)" stroke="#161616" stroke-width="2.4" stroke-linejoin="round"/>
<path d="M411.14,1120.09 L412.09,1119.29 L412.54,1118.87 L412.85,1118.53 L413.05,1118.24 L413.16,1117.98 L413.20,1117.75 L413.16,1117.54 L413.05,1117.35 L412.87,1117.18 L412.61,1117.04 L412.28,1116.91 L411.87,1116.80 L411.38,1116.70 L410.79,1116.62 L410.09,1116.56 L409.25,1116.52 L408.17,1116.50 L406.10,1116.49 L404.01,1116.50 L402.87,1116.52 L401.92,1116.56 L401.08,1116.62 L400.30,1116.70 L399.58,1116.80 L398.90,1116.91 L398.25,1117.04 L397.63,1117.18 L397.04,1117.35 L396.47,1117.54 L395.93,1117.75 L395.40,1117.98 L394.88,1118.24 L394.36,1118.53 L393.83,1118.87 L393.25,1119.29 L392.26,1120.09 L391.31,1120.88 L390.86,1121.30 L390.55,1121.65 L390.35,1121.94 L390.24,1122.20 L390.20,1122.43 L390.24,1122.64 L390.35,1122.83 L390.53,1122.99 L390.79,1123.14 L391.12,1123.27 L391.53,1123.38 L392.02,1123.47 L392.61,1123.55 L393.31,1123.61 L394.15,1123.65 L395.23,1123.68 L397.30,1123.69 L399.39,1123.68 L400.53,1123.65 L401.48,1123.61 L402.32,1123.55 L403.10,1123.47 L403.82,1123.38 L404.50,1123.27 L405.15,1123.14 L405.77,1122.99 L406.36,1122.83 L406.93,1122.64 L407.47,1122.43 L408.00,1122.20 L408.52,1121.94 L409.04,1121.65 L409.57,1121.30 L410.15,1120.88 Z" fill="#868686" stroke="#161616" stroke-width="2.4" stroke-linejoin="round"/>
<path d="M436.50,1113.84 L436.50,1133.36 L436.46,1133.59 L436.35,1133.85 L436.15,1134.14 L435.84,1134.48 L435.39,1134.91 L434.44,1135.70 L433.45,1136.49 L432.87,1136.92 L432.34,1137.26 L431.82,1137.55 L431.30,1137.81 L430.77,1138.04 L430.23,1138.25 L429.66,1138.44 L429.07,1138.60 L428.45,1138.75 L427.80,1138.88 L427.12,1138.99 L426.40,1139.09 L425.62,1139.16 L424.78,1139.22 L423.83,1139.27 L422.69,1139.29 L420.60,1139.30 L418.53,1139.29 L417.45,1139.27 L416.61,1139.22 L415.91,1139.16 L415.32,1139.09 L414.83,1138.99 L414.42,1138.88 L414.09,1138.75 L413.83,1138.60 L413.65,1138.44 L413.54,1138.25 L413.50,1138.04 L413.50,1118.53 L413.54,1118.74 L413.65,1118.92 L413.83,1119.09 L414.09,1119.24 L414.42,1119.37 L414.83,1119.48 L415.32,1119.57 L415.91,1119.65 L416.61,1119.71 L417.45,1119.75 L418.53,1119.78 L420.60,1119.78 L422.69,1119.78 L423.83,1119.75 L424.78,1119.71 L425.62,1119.65 L426.40,1119.57 L427.12,1119.48 L427.80,1119.37 L428.45,1119.24 L429.07,1119.09 L429.66,1118.92 L430.23,1118.74 L430.77,1118.53 L431.30,1118.30 L431.82,1118.04 L432.34,1117.74 L432.87,1117.40 L433.45,1116.98 L434.44,1116.18 L435.39,1115.39 L435.84,1114.97 L436.15,1114.63 L436.35,1114.33 L436.46,1114.07 L436.50,1113.84 Z" fill="url(#g3)" stroke="#161616" stroke-width="2.4" stroke-linejoin="round"/>
<path d="M434.44,1116.18 L435.39,1115.39 L435.84,1114.97 L436.15,1114.63 L436.35,1114.33 L436.46,1114.07 L436.50,1113.84 L436.46,1113.63 L436.35,1113.45 L436.17,1113.28 L435.91,1113.13 L435.58,1113.00 L435.17,1112.89 L434.68,1112.80 L434.09,1112.72 L433.39,1112.66 L432.55,1112.62 L431.47,1112.59 L429.40,1112.58 L427.31,1112.59 L426.17,1112.62 L425.22,1112.66 L424.38,1112.72 L423.60,1112.80 L422.88,1112.89 L422.20,1113.00 L421.55,1113.13 L420.93,1113.28 L420.34,1113.45 L419.77,1113.63 L419.23,1113.84 L418.70,1114.07 L418.18,1114.33 L417.66,1114.63 L417.13,1114.97 L416.55,1115.39 L415.56,1116.18 L414.61,1116.98 L414.16,1117.40 L413.85,1117.74 L413.65,1118.04 L413.54,1118.30 L413.50,1118.53 L413.54,1118.74 L413.65,1118.92 L413.83,1119.09 L414.09,1119.24 L414.42,1119.37 L414.83,1119.48 L415.32,1119.57 L415.91,1119.65 L416.61,1119.71 L417.45,1119.75 L418.53,1119.78 L420.60,1119.78 L422.69,1119.78 L423.83,1119.75 L424.78,1119.71 L425.62,1119.65 L426.40,1119.57 L427.12,1119.48 L427.80,1119.37 L428.45,1119.24 L429.07,1119.09 L429.66,1118.92 L430.23,1118.74 L430.77,1118.53 L431.30,1118.30 L431.82,1118.04 L432.34,1117.74 L432.87,1117.40 L433.45,1116.98 Z" fill="#5e5e5e" stroke="#161616" stroke-width="2.4" stroke-linejoin="round"/>
<path d="M492.44,1135.70 L493.39,1135.00 L493.84,1134.62 L494.15,1134.32 L494.35,1134.05 L494.46,1133.82 L494.50,1133.62 L494.46,1133.43 L494.35,1133.27 L494.17,1133.12 L493.91,1132.99 L493.58,1132.87 L493.17,1132.77 L492.68,1132.69 L492.09,1132.62 L491.39,1132.57 L490.55,1132.53 L489.47,1132.51 L487.40,1132.50 L485.31,1132.51 L484.17,1132.53 L483.22,1132.57 L482.38,1132.62 L481.60,1132.69 L480.88,1132.77 L480.20,1132.87 L479.55,1132.99 L478.93,1133.12 L478.34,1133.27 L477.77,1133.43 L477.23,1133.62 L476.70,1133.82 L476.18,1134.05 L475.66,1134.32 L475.13,1134.62 L474.55,1135.00 L473.56,1135.70 L472.61,1136.40 L472.16,1136.78 L471.85,1137.08 L471.65,1137.35 L471.54,1137.58 L471.50,1137.78 L471.54,1137.97 L471.65,1138.13 L471.83,1138.28 L472.09,1138.41 L472.42,1138.53 L472.83,1138.63 L473.32,1138.71 L473.91,1138.78 L474.61,1138.83 L475.45,1138.87 L476.53,1138.89 L478.60,1138.90 L480.69,1138.89 L481.83,1138.87 L482.78,1138.83 L483.62,1138.78 L484.40,1138.71 L485.12,1138.63 L485.80,1138.53 L486.45,1138.41 L487.07,1138.28 L487.66,1138.13 L488.23,1137.97 L488.77,1137.78 L489.30,1137.58 L489.82,1137.35 L490.34,1137.08 L490.87,1136.78 L491.45,1136.40 Z" fill="#8e8e8e" stroke="#2a2a2a" stroke-width="2.2" stroke-linejoin="round"/>
<path d="M517.80,1090.42 L517.80,1133.36 L517.76,1133.59 L517.65,1133.85 L517.45,1134.14 L517.14,1134.48 L516.69,1134.91 L515.74,1135.70 L514.75,1136.49 L514.17,1136.92 L513.64,1137.26 L513.12,1137.55 L512.60,1137.81 L512.07,1138.04 L511.53,1138.25 L510.96,1138.44 L510.37,1138.60 L509.75,1138.75 L509.10,1138.88 L508.42,1138.99 L507.70,1139.09 L506.92,1139.16 L506.08,1139.22 L505.13,1139.27 L503.99,1139.29 L501.90,1139.30 L499.83,1139.29 L498.75,1139.27 L497.91,1139.22 L497.21,1139.16 L496.62,1139.09 L496.13,1138.99 L495.72,1138.88 L495.39,1138.75 L495.13,1138.60 L494.95,1138.44 L494.84,1138.25 L494.80,1138.04 L494.80,1095.11 L494.84,1095.32 L494.95,1095.50 L495.13,1095.67 L495.39,1095.82 L495.72,1095.95 L496.13,1096.06 L496.62,1096.15 L497.21,1096.23 L497.91,1096.29 L498.75,1096.33 L499.83,1096.36 L501.90,1096.37 L503.99,1096.36 L505.13,1096.33 L506.08,1096.29 L506.92,1096.23 L507.70,1096.15 L508.42,1096.06 L509.10,1095.95 L509.75,1095.82 L510.37,1095.67 L510.96,1095.50 L511.53,1095.32 L512.07,1095.11 L512.60,1094.88 L513.12,1094.62 L513.64,1094.32 L514.17,1093.98 L514.75,1093.56 L515.74,1092.77 L516.69,1091.97 L517.14,1091.55 L517.45,1091.21 L517.65,1090.92 L517.76,1090.66 L517.80,1090.42 Z" fill="url(#g2)" stroke="#161616" stroke-width="2.4" stroke-linejoin="round"/>
<path d="M515.74,1092.77 L516.69,1091.97 L517.14,1091.55 L517.45,1091.21 L517.65,1090.92 L517.76,1090.66 L517.80,1090.42 L517.76,1090.22 L517.65,1090.03 L517.47,1089.86 L517.21,1089.72 L516.88,1089.59 L516.47,1089.47 L515.98,1089.38 L515.39,1089.30 L514.69,1089.24 L513.85,1089.20 L512.77,1089.18 L510.70,1089.17 L508.61,1089.18 L507.47,1089.20 L506.52,1089.24 L505.68,1089.30 L504.90,1089.38 L504.18,1089.47 L503.50,1089.59 L502.85,1089.72 L502.23,1089.86 L501.64,1090.03 L501.07,1090.22 L500.53,1090.42 L500.00,1090.66 L499.48,1090.92 L498.96,1091.21 L498.43,1091.55 L497.85,1091.97 L496.86,1092.77 L495.91,1093.56 L495.46,1093.98 L495.15,1094.32 L494.95,1094.62 L494.84,1094.88 L494.80,1095.11 L494.84,1095.32 L494.95,1095.50 L495.13,1095.67 L495.39,1095.82 L495.72,1095.95 L496.13,1096.06 L496.62,1096.15 L497.21,1096.23 L497.91,1096.29 L498.75,1096.33 L499.83,1096.36 L501.90,1096.37 L503.99,1096.36 L505.13,1096.33 L506.08,1096.29 L506.92,1096.23 L507.70,1096.15 L508.42,1096.06 L509.10,1095.95 L509.75,1095.82 L510.37,1095.67 L510.96,1095.50 L511.53,1095.32 L512.07,1095.11 L512.60,1094.88 L513.12,1094.62 L513.64,1094.32 L514.17,1093.98 L514.75,1093.56 Z" fill="#868686" stroke="#161616" stroke-width="2.4" stroke-linejoin="round"/>
<path d="M541.10,934.30 L541.10,1133.36 L541.06,1133.59 L540.95,1133.85 L540.75,1134.14 L540.44,1134.48 L539.99,1134.91 L539.04,1135.70 L538.05,1136.49 L537.47,1136.92 L536.94,1137.26 L536.42,1137.55 L535.90,1137.81 L535.37,1138.04 L534.83,1138.25 L534.26,1138.44 L533.67,1138.60 L533.05,1138.75 L532.40,1138.88 L531.72,1138.99 L531.00,1139.09 L530.22,1139.16 L529.38,1139.22 L528.43,1139.27 L527.29,1139.29 L525.20,1139.30 L523.13,1139.29 L522.05,1139.27 L521.21,1139.22 L520.51,1139.16 L519.92,1139.09 L519.43,1138.99 L519.02,1138.88 L518.69,1138.75 L518.43,1138.60 L518.25,1138.44 L518.14,1138.25 L518.10,1138.04 L518.10,938.99 L518.14,939.20 L518.25,939.38 L518.43,939.55 L518.69,939.70 L519.02,939.83 L519.43,939.94 L519.92,940.03 L520.51,940.11 L521.21,940.17 L522.05,940.21 L523.13,940.24 L525.20,940.25 L527.29,940.24 L528.43,940.21 L529.38,940.17 L530.22,940.11 L531.00,940.03 L531.72,939.94 L532.40,939.83 L533.05,939.70 L533.67,939.55 L534.26,939.38 L534.83,939.20 L535.37,938.99 L535.90,938.76 L536.42,938.50 L536.94,938.20 L537.47,937.86 L538.05,937.44 L539.04,936.65 L539.99,935.85 L540.44,935.43 L540.75,935.09 L540.95,934.80 L541.06,934.54 L541.10,934.30 Z" fill="url(#g3)" stroke="#161616" stroke-width="2.4" stroke-linejoin="round"/>
<path d="M539.04,936.65 L539.99,935.85 L540.44,935.43 L540.75,935.09 L540.95,934.80 L541.06,934.54 L541.10,934.30 L541.06,934.10 L540.95,933.91 L540.77,933.74 L540.51,933.60 L540.18,933.47 L539.77,933.35 L539.28,933.26 L538.69,933.18 L537.99,933.12 L537.15,933.08 L536.07,933.06 L534.00,933.05 L531.91,933.06 L530.77,933.08 L529.82,933.12 L528.98,933.18 L528.20,933.26 L527.48,933.35 L526.80,933.47 L526.15,933.60 L525.53,933.74 L524.94,933.91 L524.37,934.10 L523.83,934.30 L523.30,934.54 L522.78,934.80 L522.26,935.09 L521.73,935.43 L521.15,935.85 L520.16,936.65 L519.21,937.44 L518.76,937.86 L518.45,938.20 L518.25,938.50 L518.14,938.76 L518.10,938.99 L518.14,939.20 L518.25,939.38 L518.43,939.55 L518.69,939.70 L519.02,939.83 L519.43,939.94 L519.92,940.03 L520.51,940.11 L521.21,940.17 L522.05,940.21 L523.13,940.24 L525.20,940.25 L527.29,940.24 L528.43,940.21 L529.38,940.17 L530.22,940.11 L531.00,940.03 L531.72,939.94 L532.40,939.83 L533.05,939.70 L533.67,939.55 L534.26,939.38 L534.83,939.20 L535.37,938.99 L535.90,938.76 L536.42,938.50 L536.94,938.20 L537.47,937.86 L538.05,937.44 Z" fill="#5e5e5e" stroke="#161616" stroke-width="2.4" stroke-linejoin="round"/>
<path d="M597.04,1135.70 L597.99,1135.00 L598.44,1134.62 L598.75,1134.32 L598.95,1134.05 L599.06,1133.82 L599.10,1133.62 L599.06,1133.43 L598.95,1133.27 L598.77,1133.12 L598.51,1132.99 L598.18,1132.87 L597.77,1132.77 L597.28,1132.69 L596.69,1132.62 L595.99,1132.57 L595.15,1132.53 L594.07,1132.51 L592.00,1132.50 L589.91,1132.51 L588.77,1132.53 L587.82,1132.57 L586.98,1132.62 L586.20,1132.69 L585.48,1132.77 L584.80,1132.87 L584.15,1132.99 L583.53,1133.12 L582.94,1133.27 L582.37,1133.43 L581.83,1133.62 L581.30,1133.82 L580.78,1134.05 L580.26,1134.32 L579.73,1134.62 L579.15,1135.00 L578.16,1135.70 L577.21,1136.40 L576.76,1136.78 L576.45,1137.08 L576.25,1137.35 L576.14,1137.58 L576.10,1137.78 L576.14,1137.97 L576.25,1138.13 L576.43,1138.28 L576.69,1138.41 L577.02,1138.53 L577.43,1138.63 L577.92,1138.71 L578.51,1138.78 L579.21,1138.83 L580.05,1138.87 L581.13,1138.89 L583.20,1138.90 L585.29,1138.89 L586.43,1138.87 L587.38,1138.83 L588.22,1138.78 L589.00,1138.71 L589.72,1138.63 L590.40,1138.53 L591.05,1138.41 L591.67,1138.28 L592.26,1138.13 L592.83,1137.97 L593.37,1137.78 L593.90,1137.58 L594.42,1137.35 L594.94,1137.08 L595.47,1136.78 L596.05,1136.40 Z" fill="#8e8e8e" stroke="#2a2a2a" stroke-width="2.2" stroke-linejoin="round"/>
<path d="M620.34,1135.70 L621.29,1135.00 L621.74,1134.62 L622.05,1134.32 L622.25,1134.05 L622.36,1133.82 L622.40,1133.62 L622.36,1133.43 L622.25,1133.27 L622.07,1133.12 L621.81,1132.99 L621.48,1132.87 L621.07,1132.77 L620.58,1132.69 L619.99,1132.62 L619.29,1132.57 L618.45,1132.53 L617.37,1132.51 L615.30,1132.50 L613.21,1132.51 L612.07,1132.53 L611.12,1132.57 L610.28,1132.62 L609.50,1132.69 L608.78,1132.77 L608.10,1132.87 L607.45,1132.99 L606.83,1133.12 L606.24,1133.27 L605.67,1133.43 L605.13,1133.62 L604.60,1133.82 L604.08,1134.05 L603.56,1134.32 L603.03,1134.62 L602.45,1135.00 L601.46,1135.70 L600.51,1136.40 L600.06,1136.78 L599.75,1137.08 L599.55,1137.35 L599.44,1137.58 L599.40,1137.78 L599.44,1137.97 L599.55,1138.13 L599.73,1138.28 L599.99,1138.41 L600.32,1138.53 L600.73,1138.63 L601.22,1138.71 L601.81,1138.78 L602.51,1138.83 L603.35,1138.87 L604.43,1138.89 L606.50,1138.90 L608.59,1138.89 L609.73,1138.87 L610.68,1138.83 L611.52,1138.78 L612.30,1138.71 L613.02,1138.63 L613.70,1138.53 L614.35,1138.41 L614.97,1138.28 L615.56,1138.13 L616.13,1137.97 L616.67,1137.78 L617.20,1137.58 L617.72,1137.35 L618.24,1137.08 L618.77,1136.78 L619.35,1136.40 Z" fill="#7a7a7a" stroke="#2a2a2a" stroke-width="2.2" stroke-linejoin="round"/>
<path d="M645.70,1129.45 L645.70,1133.36 L645.66,1133.59 L645.55,1133.85 L645.35,1134.14 L645.04,1134.48 L644.59,1134.91 L643.64,1135.70 L642.65,1136.49 L642.07,1136.92 L641.54,1137.26 L641.02,1137.55 L640.50,1137.81 L639.97,1138.04 L639.43,1138.25 L638.86,1138.44 L638.27,1138.60 L637.65,1138.75 L637.00,1138.88 L636.32,1138.99 L635.60,1139.09 L634.82,1139.16 L633.98,1139.22 L633.03,1139.27 L631.89,1139.29 L629.80,1139.30 L627.73,1139.29 L626.65,1139.27 L625.81,1139.22 L625.11,1139.16 L624.52,1139.09 L624.03,1138.99 L623.62,1138.88 L623.29,1138.75 L623.03,1138.60 L622.85,1138.44 L622.74,1138.25 L622.70,1138.04 L622.70,1134.14 L622.74,1134.35 L622.85,1134.53 L623.03,1134.70 L623.29,1134.85 L623.62,1134.98 L624.03,1135.09 L624.52,1135.18 L625.11,1135.26 L625.81,1135.32 L626.65,1135.36 L627.73,1135.39 L629.80,1135.40 L631.89,1135.39 L633.03,1135.36 L633.98,1135.32 L634.82,1135.26 L635.60,1135.18 L636.32,1135.09 L637.00,1134.98 L637.65,1134.85 L638.27,1134.70 L638.86,1134.53 L639.43,1134.35 L639.97,1134.14 L640.50,1133.91 L641.02,1133.65 L641.54,1133.35 L642.07,1133.01 L642.65,1132.59 L643.64,1131.80 L644.59,1131.00 L645.04,1130.58 L645.35,1130.24 L645.55,1129.95 L645.66,1129.69 L645.70,1129.45 Z" fill="url(#g3)" stroke="#161616" stroke-width="2.4" stroke-linejoin="round"/>
<path d="M643.64,1131.80 L644.59,1131.00 L645.04,1130.58 L645.35,1130.24 L645.55,1129.95 L645.66,1129.69 L645.70,1129.45 L645.66,1129.25 L645.55,1129.06 L645.37,1128.89 L645.11,1128.75 L644.78,1128.62 L644.37,1128.50 L643.88,1128.41 L643.29,1128.33 L642.59,1128.27 L641.75,1128.23 L640.67,1128.21 L638.60,1128.20 L636.51,1128.21 L635.37,1128.23 L634.42,1128.27 L633.58,1128.33 L632.80,1128.41 L632.08,1128.50 L631.40,1128.62 L630.75,1128.75 L630.13,1128.89 L629.54,1129.06 L628.97,1129.25 L628.43,1129.45 L627.90,1129.69 L627.38,1129.95 L626.86,1130.24 L626.33,1130.58 L625.75,1131.00 L624.76,1131.80 L623.81,1132.59 L623.36,1133.01 L623.05,1133.35 L622.85,1133.65 L622.74,1133.91 L622.70,1134.14 L622.74,1134.35 L622.85,1134.53 L623.03,1134.70 L623.29,1134.85 L623.62,1134.98 L624.03,1135.09 L624.52,1135.18 L625.11,1135.26 L625.81,1135.32 L626.65,1135.36 L627.73,1135.39 L629.80,1135.40 L631.89,1135.39 L633.03,1135.36 L633.98,1135.32 L634.82,1135.26 L635.60,1135.18 L636.32,1135.09 L637.00,1134.98 L637.65,1134.85 L638.27,1134.70 L638.86,1134.53 L639.43,1134.35 L639.97,1134.14 L640.50,1133.91 L641.02,1133.65 L641.54,1133.35 L642.07,1133.01 L642.65,1132.59 Z" fill="#5e5e5e" stroke="#161616" stroke-width="2.4" stroke-linejoin="round"/>
</g>
<text x="137.60" y="1161.5" font-size="21.5">YSPTSPS Y<tspan class="b">S</tspan>PTSPS YSPT<tspan class="b">S</tspan>PS Y<tspan class="b">S</tspan>PT<tspan class="b">S</tspan>PS no peptide</text>
<rect x="257.29" y="1163.10" width="13.94" height="1.30" fill="#111"/>
<rect x="404.25" y="1163.10" width="13.94" height="1.30" fill="#111"/>
<rect x="467.59" y="1163.10" width="13.94" height="1.30" fill="#111"/>
<rect x="509.40" y="1163.10" width="13.94" height="1.30" fill="#111"/>
</g>
</svg>
</body></html>
